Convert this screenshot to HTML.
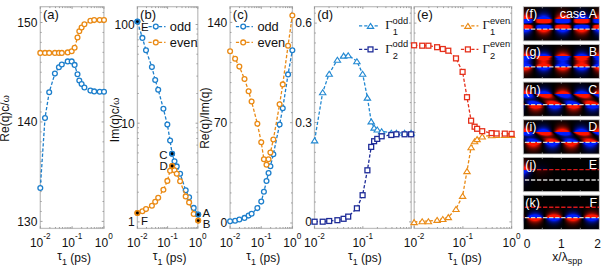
<!DOCTYPE html>
<html><head><meta charset="utf-8"><style>html,body{margin:0;padding:0;background:#fff;width:602px;height:267px;overflow:hidden}svg{display:block}</style></head><body>
<svg width="602" height="267" viewBox="0 0 602 267" font-family="Liberation Sans, sans-serif">
<rect width="602" height="267" fill="#fff"/>
<rect x="40.3" y="6.7" width="63.6" height="221.7" fill="none" stroke="#c0c0c0" stroke-width="1.3"/>
<path d="M40.3 228.4v-2.2M40.3 6.7v2.2M49.87 228.4v-1.4M49.87 6.7v1.4M55.47 228.4v-1.4M55.47 6.7v1.4M59.45 228.4v-1.4M59.45 6.7v1.4M62.53 228.4v-1.4M62.53 6.7v1.4M65.05 228.4v-1.4M65.05 6.7v1.4M67.17 228.4v-1.4M67.17 6.7v1.4M69.02 228.4v-1.4M69.02 6.7v1.4M70.64 228.4v-1.4M70.64 6.7v1.4M72.1 228.4v-2.2M72.1 6.7v2.2M81.67 228.4v-1.4M81.67 6.7v1.4M87.27 228.4v-1.4M87.27 6.7v1.4M91.25 228.4v-1.4M91.25 6.7v1.4M94.33 228.4v-1.4M94.33 6.7v1.4M96.85 228.4v-1.4M96.85 6.7v1.4M98.97 228.4v-1.4M98.97 6.7v1.4M100.82 228.4v-1.4M100.82 6.7v1.4M102.44 228.4v-1.4M102.44 6.7v1.4M103.9 228.4v-2.2M103.9 6.7v2.2M40.3 221.4h2.2M103.9 221.4h-2.2M40.3 211.46h1.4M103.9 211.46h-1.4M40.3 201.51h1.4M103.9 201.51h-1.4M40.3 191.56h1.4M103.9 191.56h-1.4M40.3 181.62h1.4M103.9 181.62h-1.4M40.3 171.68h1.4M103.9 171.68h-1.4M40.3 161.73h1.4M103.9 161.73h-1.4M40.3 151.79h1.4M103.9 151.79h-1.4M40.3 141.84h1.4M103.9 141.84h-1.4M40.3 131.89h1.4M103.9 131.89h-1.4M40.3 121.95h2.2M103.9 121.95h-2.2M40.3 112h1.4M103.9 112h-1.4M40.3 102.06h1.4M103.9 102.06h-1.4M40.3 92.11h1.4M103.9 92.11h-1.4M40.3 82.17h1.4M103.9 82.17h-1.4M40.3 72.22h1.4M103.9 72.22h-1.4M40.3 62.28h1.4M103.9 62.28h-1.4M40.3 52.34h1.4M103.9 52.34h-1.4M40.3 42.39h1.4M103.9 42.39h-1.4M40.3 32.45h1.4M103.9 32.45h-1.4M40.3 22.5h2.2M103.9 22.5h-2.2M40.3 12.55h1.4M103.9 12.55h-1.4" stroke="#8a8a8a" stroke-width="0.8" fill="none"/>
<text x="29.88" y="247" font-size="12" fill="#111">10<tspan font-size="8.2" dy="-7.6">-2</tspan></text>
<text x="61.68" y="247" font-size="12" fill="#111">10<tspan font-size="8.2" dy="-7.6">-1</tspan></text>
<text x="94.85" y="247" font-size="12" fill="#111">10<tspan font-size="8.2" dy="-7.6">0</tspan></text>
<text x="74.1" y="261.5" font-size="12" text-anchor="middle" fill="#111"><tspan font-size="12" dy="-1.8">&#964;</tspan><tspan font-size="9" dy="5.3">1</tspan><tspan dy="-3.5"> (ps)</tspan></text>
<text x="37.4" y="225.7" font-size="12" text-anchor="end" fill="#111" >130</text>
<text x="37.4" y="126.25" font-size="12" text-anchor="end" fill="#111" >140</text>
<text x="37.4" y="26.8" font-size="12" text-anchor="end" fill="#111" >150</text>
<rect x="137.4" y="6.7" width="60.4" height="221.7" fill="none" stroke="#c0c0c0" stroke-width="1.3"/>
<path d="M137.4 228.4v-2.2M137.4 6.7v2.2M146.49 228.4v-1.4M146.49 6.7v1.4M151.81 228.4v-1.4M151.81 6.7v1.4M155.58 228.4v-1.4M155.58 6.7v1.4M158.51 228.4v-1.4M158.51 6.7v1.4M160.9 228.4v-1.4M160.9 6.7v1.4M162.92 228.4v-1.4M162.92 6.7v1.4M164.67 228.4v-1.4M164.67 6.7v1.4M166.22 228.4v-1.4M166.22 6.7v1.4M167.6 228.4v-2.2M167.6 6.7v2.2M176.69 228.4v-1.4M176.69 6.7v1.4M182.01 228.4v-1.4M182.01 6.7v1.4M185.78 228.4v-1.4M185.78 6.7v1.4M188.71 228.4v-1.4M188.71 6.7v1.4M191.1 228.4v-1.4M191.1 6.7v1.4M193.12 228.4v-1.4M193.12 6.7v1.4M194.87 228.4v-1.4M194.87 6.7v1.4M196.42 228.4v-1.4M196.42 6.7v1.4M197.8 228.4v-2.2M197.8 6.7v2.2M137.4 221.9h2.2M197.8 221.9h-2.2M137.4 192.19h1.4M197.8 192.19h-1.4M137.4 174.81h1.4M197.8 174.81h-1.4M137.4 162.48h1.4M197.8 162.48h-1.4M137.4 152.91h1.4M197.8 152.91h-1.4M137.4 145.1h1.4M197.8 145.1h-1.4M137.4 138.49h1.4M197.8 138.49h-1.4M137.4 132.77h1.4M197.8 132.77h-1.4M137.4 127.72h1.4M197.8 127.72h-1.4M137.4 123.2h2.2M197.8 123.2h-2.2M137.4 93.49h1.4M197.8 93.49h-1.4M137.4 76.11h1.4M197.8 76.11h-1.4M137.4 63.78h1.4M197.8 63.78h-1.4M137.4 54.21h1.4M197.8 54.21h-1.4M137.4 46.4h1.4M197.8 46.4h-1.4M137.4 39.79h1.4M197.8 39.79h-1.4M137.4 34.07h1.4M197.8 34.07h-1.4M137.4 29.02h1.4M197.8 29.02h-1.4M137.4 24.5h2.2M197.8 24.5h-2.2" stroke="#8a8a8a" stroke-width="0.8" fill="none"/>
<text x="126.98" y="247" font-size="12" fill="#111">10<tspan font-size="8.2" dy="-7.6">-2</tspan></text>
<text x="157.18" y="247" font-size="12" fill="#111">10<tspan font-size="8.2" dy="-7.6">-1</tspan></text>
<text x="188.75" y="247" font-size="12" fill="#111">10<tspan font-size="8.2" dy="-7.6">0</tspan></text>
<text x="169.6" y="261.5" font-size="12" text-anchor="middle" fill="#111"><tspan font-size="12" dy="-1.8">&#964;</tspan><tspan font-size="9" dy="5.3">1</tspan><tspan dy="-3.5"> (ps)</tspan></text>
<text x="134.6" y="226.2" font-size="12" text-anchor="end" fill="#111" >1</text>
<text x="134.6" y="127.5" font-size="12" text-anchor="end" fill="#111" >10</text>
<text x="134.6" y="28.8" font-size="12" text-anchor="end" fill="#111" >100</text>
<rect x="230.1" y="6.7" width="62.3" height="221.7" fill="none" stroke="#c0c0c0" stroke-width="1.3"/>
<path d="M230.1 228.4v-2.2M230.1 6.7v2.2M239.48 228.4v-1.4M239.48 6.7v1.4M244.96 228.4v-1.4M244.96 6.7v1.4M248.85 228.4v-1.4M248.85 6.7v1.4M251.87 228.4v-1.4M251.87 6.7v1.4M254.34 228.4v-1.4M254.34 6.7v1.4M256.42 228.4v-1.4M256.42 6.7v1.4M258.23 228.4v-1.4M258.23 6.7v1.4M259.82 228.4v-1.4M259.82 6.7v1.4M261.25 228.4v-2.2M261.25 6.7v2.2M270.63 228.4v-1.4M270.63 6.7v1.4M276.11 228.4v-1.4M276.11 6.7v1.4M280 228.4v-1.4M280 6.7v1.4M283.02 228.4v-1.4M283.02 6.7v1.4M285.49 228.4v-1.4M285.49 6.7v1.4M287.57 228.4v-1.4M287.57 6.7v1.4M289.38 228.4v-1.4M289.38 6.7v1.4M290.97 228.4v-1.4M290.97 6.7v1.4M292.4 228.4v-2.2M292.4 6.7v2.2M230.1 223h2.2M292.4 223h-2.2M230.1 212.97h1.4M292.4 212.97h-1.4M230.1 202.94h1.4M292.4 202.94h-1.4M230.1 192.91h1.4M292.4 192.91h-1.4M230.1 182.88h1.4M292.4 182.88h-1.4M230.1 172.85h1.4M292.4 172.85h-1.4M230.1 162.82h1.4M292.4 162.82h-1.4M230.1 152.79h1.4M292.4 152.79h-1.4M230.1 142.76h1.4M292.4 142.76h-1.4M230.1 132.73h1.4M292.4 132.73h-1.4M230.1 122.7h2.2M292.4 122.7h-2.2M230.1 112.67h1.4M292.4 112.67h-1.4M230.1 102.64h1.4M292.4 102.64h-1.4M230.1 92.61h1.4M292.4 92.61h-1.4M230.1 82.58h1.4M292.4 82.58h-1.4M230.1 72.55h1.4M292.4 72.55h-1.4M230.1 62.52h1.4M292.4 62.52h-1.4M230.1 52.49h1.4M292.4 52.49h-1.4M230.1 42.46h1.4M292.4 42.46h-1.4M230.1 32.43h1.4M292.4 32.43h-1.4M230.1 22.4h2.2M292.4 22.4h-2.2M230.1 12.37h1.4M292.4 12.37h-1.4" stroke="#8a8a8a" stroke-width="0.8" fill="none"/>
<text x="219.68" y="247" font-size="12" fill="#111">10<tspan font-size="8.2" dy="-7.6">-2</tspan></text>
<text x="250.83" y="247" font-size="12" fill="#111">10<tspan font-size="8.2" dy="-7.6">-1</tspan></text>
<text x="283.35" y="247" font-size="12" fill="#111">10<tspan font-size="8.2" dy="-7.6">0</tspan></text>
<text x="263.25" y="261.5" font-size="12" text-anchor="middle" fill="#111"><tspan font-size="12" dy="-1.8">&#964;</tspan><tspan font-size="9" dy="5.3">1</tspan><tspan dy="-3.5"> (ps)</tspan></text>
<text x="227.3" y="227.3" font-size="12" text-anchor="end" fill="#111" >0</text>
<text x="227.3" y="127" font-size="12" text-anchor="end" fill="#111" >70</text>
<text x="227.3" y="26.7" font-size="12" text-anchor="end" fill="#111" >140</text>
<rect x="314.5" y="6.7" width="96.7" height="221.7" fill="none" stroke="#c0c0c0" stroke-width="1.3"/>
<path d="M314.5 228.4v-2.2M314.5 6.7v2.2M329.05 228.4v-1.4M329.05 6.7v1.4M337.57 228.4v-1.4M337.57 6.7v1.4M343.61 228.4v-1.4M343.61 6.7v1.4M348.3 228.4v-1.4M348.3 6.7v1.4M352.12 228.4v-1.4M352.12 6.7v1.4M355.36 228.4v-1.4M355.36 6.7v1.4M358.16 228.4v-1.4M358.16 6.7v1.4M360.64 228.4v-1.4M360.64 6.7v1.4M362.85 228.4v-2.2M362.85 6.7v2.2M377.4 228.4v-1.4M377.4 6.7v1.4M385.92 228.4v-1.4M385.92 6.7v1.4M391.96 228.4v-1.4M391.96 6.7v1.4M396.65 228.4v-1.4M396.65 6.7v1.4M400.47 228.4v-1.4M400.47 6.7v1.4M403.71 228.4v-1.4M403.71 6.7v1.4M406.51 228.4v-1.4M406.51 6.7v1.4M408.99 228.4v-1.4M408.99 6.7v1.4M411.2 228.4v-2.2M411.2 6.7v2.2M314.5 221.9h2.2M411.2 221.9h-2.2M314.5 211.96h1.4M411.2 211.96h-1.4M314.5 202.02h1.4M411.2 202.02h-1.4M314.5 192.08h1.4M411.2 192.08h-1.4M314.5 182.14h1.4M411.2 182.14h-1.4M314.5 172.2h1.4M411.2 172.2h-1.4M314.5 162.26h1.4M411.2 162.26h-1.4M314.5 152.32h1.4M411.2 152.32h-1.4M314.5 142.38h1.4M411.2 142.38h-1.4M314.5 132.44h1.4M411.2 132.44h-1.4M314.5 122.5h2.2M411.2 122.5h-2.2M314.5 112.56h1.4M411.2 112.56h-1.4M314.5 102.62h1.4M411.2 102.62h-1.4M314.5 92.68h1.4M411.2 92.68h-1.4M314.5 82.74h1.4M411.2 82.74h-1.4M314.5 72.8h1.4M411.2 72.8h-1.4M314.5 62.86h1.4M411.2 62.86h-1.4M314.5 52.92h1.4M411.2 52.92h-1.4M314.5 42.98h1.4M411.2 42.98h-1.4M314.5 33.04h1.4M411.2 33.04h-1.4M314.5 23.1h2.2M411.2 23.1h-2.2M314.5 13.16h1.4M411.2 13.16h-1.4" stroke="#8a8a8a" stroke-width="0.8" fill="none"/>
<text x="304.08" y="247" font-size="12" fill="#111">10<tspan font-size="8.2" dy="-7.6">-2</tspan></text>
<text x="352.43" y="247" font-size="12" fill="#111">10<tspan font-size="8.2" dy="-7.6">-1</tspan></text>
<text x="364.85" y="261.5" font-size="12" text-anchor="middle" fill="#111"><tspan font-size="12" dy="-1.8">&#964;</tspan><tspan font-size="9" dy="5.3">1</tspan><tspan dy="-3.5"> (ps)</tspan></text>
<text x="312" y="226.2" font-size="12" text-anchor="end" fill="#111" >0</text>
<text x="312" y="126.8" font-size="12" text-anchor="end" fill="#111" >0.3</text>
<text x="312" y="27.4" font-size="12" text-anchor="end" fill="#111" >0.6</text>
<rect x="414.2" y="6.7" width="97.4" height="221.7" fill="none" stroke="#c0c0c0" stroke-width="1.3"/>
<path d="M414.2 228.4v-2.2M414.2 6.7v2.2M428.86 228.4v-1.4M428.86 6.7v1.4M437.44 228.4v-1.4M437.44 6.7v1.4M443.52 228.4v-1.4M443.52 6.7v1.4M448.24 228.4v-1.4M448.24 6.7v1.4M452.1 228.4v-1.4M452.1 6.7v1.4M455.36 228.4v-1.4M455.36 6.7v1.4M458.18 228.4v-1.4M458.18 6.7v1.4M460.67 228.4v-1.4M460.67 6.7v1.4M462.9 228.4v-2.2M462.9 6.7v2.2M477.56 228.4v-1.4M477.56 6.7v1.4M486.14 228.4v-1.4M486.14 6.7v1.4M492.22 228.4v-1.4M492.22 6.7v1.4M496.94 228.4v-1.4M496.94 6.7v1.4M500.8 228.4v-1.4M500.8 6.7v1.4M504.06 228.4v-1.4M504.06 6.7v1.4M506.88 228.4v-1.4M506.88 6.7v1.4M509.37 228.4v-1.4M509.37 6.7v1.4M511.6 228.4v-2.2M511.6 6.7v2.2M414.2 221.9h2.2M511.6 221.9h-2.2M414.2 211.96h1.4M511.6 211.96h-1.4M414.2 202.02h1.4M511.6 202.02h-1.4M414.2 192.08h1.4M511.6 192.08h-1.4M414.2 182.14h1.4M511.6 182.14h-1.4M414.2 172.2h1.4M511.6 172.2h-1.4M414.2 162.26h1.4M511.6 162.26h-1.4M414.2 152.32h1.4M511.6 152.32h-1.4M414.2 142.38h1.4M511.6 142.38h-1.4M414.2 132.44h1.4M511.6 132.44h-1.4M414.2 122.5h2.2M511.6 122.5h-2.2M414.2 112.56h1.4M511.6 112.56h-1.4M414.2 102.62h1.4M511.6 102.62h-1.4M414.2 92.68h1.4M511.6 92.68h-1.4M414.2 82.74h1.4M511.6 82.74h-1.4M414.2 72.8h1.4M511.6 72.8h-1.4M414.2 62.86h1.4M511.6 62.86h-1.4M414.2 52.92h1.4M511.6 52.92h-1.4M414.2 42.98h1.4M511.6 42.98h-1.4M414.2 33.04h1.4M511.6 33.04h-1.4M414.2 23.1h2.2M511.6 23.1h-2.2M414.2 13.16h1.4M511.6 13.16h-1.4" stroke="#8a8a8a" stroke-width="0.8" fill="none"/>
<text x="403.78" y="247" font-size="12" fill="#111">10<tspan font-size="8.2" dy="-7.6">-2</tspan></text>
<text x="452.48" y="247" font-size="12" fill="#111">10<tspan font-size="8.2" dy="-7.6">-1</tspan></text>
<text x="502.55" y="247" font-size="12" fill="#111">10<tspan font-size="8.2" dy="-7.6">0</tspan></text>
<text x="464.9" y="261.5" font-size="12" text-anchor="middle" fill="#111"><tspan font-size="12" dy="-1.8">&#964;</tspan><tspan font-size="9" dy="5.3">1</tspan><tspan dy="-3.5"> (ps)</tspan></text>
<polyline points="40.3,188 45,118.1 49.2,92.2 54.9,73.6 58.9,67.2 61.8,64.5 67.7,61.4 71.7,61.4 74.6,64.9 77.5,74.2 79.3,80.5 81.6,84 84.4,87.5 90.4,90.6 94.2,91.4 99.7,91.7 104,91.7" fill="none" stroke="#1d7fcc" stroke-width="1.3" stroke-dasharray="3.3 1.9"/>
<circle cx="40.3" cy="188" r="2.4" fill="#fff" stroke="#1d7fcc" stroke-width="1.3"/>
<circle cx="45" cy="118.1" r="2.4" fill="#fff" stroke="#1d7fcc" stroke-width="1.3"/>
<circle cx="49.2" cy="92.2" r="2.4" fill="#fff" stroke="#1d7fcc" stroke-width="1.3"/>
<circle cx="54.9" cy="73.6" r="2.4" fill="#fff" stroke="#1d7fcc" stroke-width="1.3"/>
<circle cx="58.9" cy="67.2" r="2.4" fill="#fff" stroke="#1d7fcc" stroke-width="1.3"/>
<circle cx="61.8" cy="64.5" r="2.4" fill="#fff" stroke="#1d7fcc" stroke-width="1.3"/>
<circle cx="67.7" cy="61.4" r="2.4" fill="#fff" stroke="#1d7fcc" stroke-width="1.3"/>
<circle cx="71.7" cy="61.4" r="2.4" fill="#fff" stroke="#1d7fcc" stroke-width="1.3"/>
<circle cx="74.6" cy="64.9" r="2.4" fill="#fff" stroke="#1d7fcc" stroke-width="1.3"/>
<circle cx="77.5" cy="74.2" r="2.4" fill="#fff" stroke="#1d7fcc" stroke-width="1.3"/>
<circle cx="79.3" cy="80.5" r="2.4" fill="#fff" stroke="#1d7fcc" stroke-width="1.3"/>
<circle cx="81.6" cy="84" r="2.4" fill="#fff" stroke="#1d7fcc" stroke-width="1.3"/>
<circle cx="84.4" cy="87.5" r="2.4" fill="#fff" stroke="#1d7fcc" stroke-width="1.3"/>
<circle cx="90.4" cy="90.6" r="2.4" fill="#fff" stroke="#1d7fcc" stroke-width="1.3"/>
<circle cx="94.2" cy="91.4" r="2.4" fill="#fff" stroke="#1d7fcc" stroke-width="1.3"/>
<circle cx="99.7" cy="91.7" r="2.4" fill="#fff" stroke="#1d7fcc" stroke-width="1.3"/>
<circle cx="104" cy="91.7" r="2.4" fill="#fff" stroke="#1d7fcc" stroke-width="1.3"/>
<polyline points="40.3,52.9 45,52.9 49.2,52.9 54.9,52.9 58.9,52.9 61.8,52.9 67.7,52.4 71.7,51.3 74.6,47.7 77.5,37.5 79.3,31.2 81.6,27.6 84.4,24.2 90.4,20.7 94.2,20.1 99.7,20.1 104,20.1" fill="none" stroke="#ea8a14" stroke-width="1.3" stroke-dasharray="3.3 1.9"/>
<circle cx="40.3" cy="52.9" r="2.4" fill="#fff" stroke="#ea8a14" stroke-width="1.3"/>
<circle cx="45" cy="52.9" r="2.4" fill="#fff" stroke="#ea8a14" stroke-width="1.3"/>
<circle cx="49.2" cy="52.9" r="2.4" fill="#fff" stroke="#ea8a14" stroke-width="1.3"/>
<circle cx="54.9" cy="52.9" r="2.4" fill="#fff" stroke="#ea8a14" stroke-width="1.3"/>
<circle cx="58.9" cy="52.9" r="2.4" fill="#fff" stroke="#ea8a14" stroke-width="1.3"/>
<circle cx="61.8" cy="52.9" r="2.4" fill="#fff" stroke="#ea8a14" stroke-width="1.3"/>
<circle cx="67.7" cy="52.4" r="2.4" fill="#fff" stroke="#ea8a14" stroke-width="1.3"/>
<circle cx="71.7" cy="51.3" r="2.4" fill="#fff" stroke="#ea8a14" stroke-width="1.3"/>
<circle cx="74.6" cy="47.7" r="2.4" fill="#fff" stroke="#ea8a14" stroke-width="1.3"/>
<circle cx="77.5" cy="37.5" r="2.4" fill="#fff" stroke="#ea8a14" stroke-width="1.3"/>
<circle cx="79.3" cy="31.2" r="2.4" fill="#fff" stroke="#ea8a14" stroke-width="1.3"/>
<circle cx="81.6" cy="27.6" r="2.4" fill="#fff" stroke="#ea8a14" stroke-width="1.3"/>
<circle cx="84.4" cy="24.2" r="2.4" fill="#fff" stroke="#ea8a14" stroke-width="1.3"/>
<circle cx="90.4" cy="20.7" r="2.4" fill="#fff" stroke="#ea8a14" stroke-width="1.3"/>
<circle cx="94.2" cy="20.1" r="2.4" fill="#fff" stroke="#ea8a14" stroke-width="1.3"/>
<circle cx="99.7" cy="20.1" r="2.4" fill="#fff" stroke="#ea8a14" stroke-width="1.3"/>
<circle cx="104" cy="20.1" r="2.4" fill="#fff" stroke="#ea8a14" stroke-width="1.3"/>
<polyline points="137.4,21.6 142.4,37.9 146,50.3 151.9,67.1 155.2,80 158.2,89.7 163.4,108.8 167.35,124.6 170.1,140.6 172.1,153.8 174.5,161.3 176.75,166.4 180.1,173.7 185.7,190.2 189.1,197.2 193.7,207.9 198.2,214.6" fill="none" stroke="#1d7fcc" stroke-width="1.3" stroke-dasharray="3.3 1.9"/>
<circle cx="137.4" cy="21.6" r="2.4" fill="#fff" stroke="#1d7fcc" stroke-width="1.3"/>
<circle cx="142.4" cy="37.9" r="2.4" fill="#fff" stroke="#1d7fcc" stroke-width="1.3"/>
<circle cx="146" cy="50.3" r="2.4" fill="#fff" stroke="#1d7fcc" stroke-width="1.3"/>
<circle cx="151.9" cy="67.1" r="2.4" fill="#fff" stroke="#1d7fcc" stroke-width="1.3"/>
<circle cx="155.2" cy="80" r="2.4" fill="#fff" stroke="#1d7fcc" stroke-width="1.3"/>
<circle cx="158.2" cy="89.7" r="2.4" fill="#fff" stroke="#1d7fcc" stroke-width="1.3"/>
<circle cx="163.4" cy="108.8" r="2.4" fill="#fff" stroke="#1d7fcc" stroke-width="1.3"/>
<circle cx="167.35" cy="124.6" r="2.4" fill="#fff" stroke="#1d7fcc" stroke-width="1.3"/>
<circle cx="170.1" cy="140.6" r="2.4" fill="#fff" stroke="#1d7fcc" stroke-width="1.3"/>
<circle cx="172.1" cy="153.8" r="2.4" fill="#fff" stroke="#1d7fcc" stroke-width="1.3"/>
<circle cx="174.5" cy="161.3" r="2.4" fill="#fff" stroke="#1d7fcc" stroke-width="1.3"/>
<circle cx="176.75" cy="166.4" r="2.4" fill="#fff" stroke="#1d7fcc" stroke-width="1.3"/>
<circle cx="180.1" cy="173.7" r="2.4" fill="#fff" stroke="#1d7fcc" stroke-width="1.3"/>
<circle cx="185.7" cy="190.2" r="2.4" fill="#fff" stroke="#1d7fcc" stroke-width="1.3"/>
<circle cx="189.1" cy="197.2" r="2.4" fill="#fff" stroke="#1d7fcc" stroke-width="1.3"/>
<circle cx="193.7" cy="207.9" r="2.4" fill="#fff" stroke="#1d7fcc" stroke-width="1.3"/>
<circle cx="198.2" cy="214.6" r="2.4" fill="#fff" stroke="#1d7fcc" stroke-width="1.3"/>
<polyline points="137.4,213 142.4,211.3 146,209.1 151.9,205.7 155.2,201.7 158.2,197.8 163.4,189.7 167.35,180.9 170.1,170.7 172.1,166 174.5,170.3 176.75,173.8 180.1,181.2 185.7,196.4 189.1,202.4 193.7,214 198.2,220.6" fill="none" stroke="#ea8a14" stroke-width="1.3" stroke-dasharray="3.3 1.9"/>
<circle cx="137.4" cy="213" r="2.4" fill="#fff" stroke="#ea8a14" stroke-width="1.3"/>
<circle cx="142.4" cy="211.3" r="2.4" fill="#fff" stroke="#ea8a14" stroke-width="1.3"/>
<circle cx="146" cy="209.1" r="2.4" fill="#fff" stroke="#ea8a14" stroke-width="1.3"/>
<circle cx="151.9" cy="205.7" r="2.4" fill="#fff" stroke="#ea8a14" stroke-width="1.3"/>
<circle cx="155.2" cy="201.7" r="2.4" fill="#fff" stroke="#ea8a14" stroke-width="1.3"/>
<circle cx="158.2" cy="197.8" r="2.4" fill="#fff" stroke="#ea8a14" stroke-width="1.3"/>
<circle cx="163.4" cy="189.7" r="2.4" fill="#fff" stroke="#ea8a14" stroke-width="1.3"/>
<circle cx="167.35" cy="180.9" r="2.4" fill="#fff" stroke="#ea8a14" stroke-width="1.3"/>
<circle cx="170.1" cy="170.7" r="2.4" fill="#fff" stroke="#ea8a14" stroke-width="1.3"/>
<circle cx="172.1" cy="166" r="2.4" fill="#fff" stroke="#ea8a14" stroke-width="1.3"/>
<circle cx="174.5" cy="170.3" r="2.4" fill="#fff" stroke="#ea8a14" stroke-width="1.3"/>
<circle cx="176.75" cy="173.8" r="2.4" fill="#fff" stroke="#ea8a14" stroke-width="1.3"/>
<circle cx="180.1" cy="181.2" r="2.4" fill="#fff" stroke="#ea8a14" stroke-width="1.3"/>
<circle cx="185.7" cy="196.4" r="2.4" fill="#fff" stroke="#ea8a14" stroke-width="1.3"/>
<circle cx="189.1" cy="202.4" r="2.4" fill="#fff" stroke="#ea8a14" stroke-width="1.3"/>
<circle cx="193.7" cy="214" r="2.4" fill="#fff" stroke="#ea8a14" stroke-width="1.3"/>
<circle cx="198.2" cy="220.6" r="2.4" fill="#fff" stroke="#ea8a14" stroke-width="1.3"/>
<polyline points="230.1,221.2 235.1,220.8 239.35,219.5 244.5,217.9 248.6,215.6 251.6,213.7 257.35,208.1 261.25,201.6 263.9,191.7 266.5,181 268.55,173 270.4,166.3 273.35,154.3 279.6,124.5 282.75,108.2 288.05,74.4 292.35,50.2" fill="none" stroke="#1d7fcc" stroke-width="1.3" stroke-dasharray="3.3 1.9"/>
<circle cx="230.1" cy="221.2" r="2.4" fill="#fff" stroke="#1d7fcc" stroke-width="1.3"/>
<circle cx="235.1" cy="220.8" r="2.4" fill="#fff" stroke="#1d7fcc" stroke-width="1.3"/>
<circle cx="239.35" cy="219.5" r="2.4" fill="#fff" stroke="#1d7fcc" stroke-width="1.3"/>
<circle cx="244.5" cy="217.9" r="2.4" fill="#fff" stroke="#1d7fcc" stroke-width="1.3"/>
<circle cx="248.6" cy="215.6" r="2.4" fill="#fff" stroke="#1d7fcc" stroke-width="1.3"/>
<circle cx="251.6" cy="213.7" r="2.4" fill="#fff" stroke="#1d7fcc" stroke-width="1.3"/>
<circle cx="257.35" cy="208.1" r="2.4" fill="#fff" stroke="#1d7fcc" stroke-width="1.3"/>
<circle cx="261.25" cy="201.6" r="2.4" fill="#fff" stroke="#1d7fcc" stroke-width="1.3"/>
<circle cx="263.9" cy="191.7" r="2.4" fill="#fff" stroke="#1d7fcc" stroke-width="1.3"/>
<circle cx="266.5" cy="181" r="2.4" fill="#fff" stroke="#1d7fcc" stroke-width="1.3"/>
<circle cx="268.55" cy="173" r="2.4" fill="#fff" stroke="#1d7fcc" stroke-width="1.3"/>
<circle cx="270.4" cy="166.3" r="2.4" fill="#fff" stroke="#1d7fcc" stroke-width="1.3"/>
<circle cx="273.35" cy="154.3" r="2.4" fill="#fff" stroke="#1d7fcc" stroke-width="1.3"/>
<circle cx="279.6" cy="124.5" r="2.4" fill="#fff" stroke="#1d7fcc" stroke-width="1.3"/>
<circle cx="282.75" cy="108.2" r="2.4" fill="#fff" stroke="#1d7fcc" stroke-width="1.3"/>
<circle cx="288.05" cy="74.4" r="2.4" fill="#fff" stroke="#1d7fcc" stroke-width="1.3"/>
<circle cx="292.35" cy="50.2" r="2.4" fill="#fff" stroke="#1d7fcc" stroke-width="1.3"/>
<polyline points="230.1,51.2 235.1,58.7 239.35,66.6 244.5,79 248.6,91.2 251.6,101.5 257.35,123.7 261.25,142.3 263.9,159.3 266.5,164.8 268.55,159.3 270.4,152.6 273.35,139.5 279.6,104.3 282.75,84.4 288.05,45.7 292.35,15.5" fill="none" stroke="#ea8a14" stroke-width="1.3" stroke-dasharray="3.3 1.9"/>
<circle cx="230.1" cy="51.2" r="2.4" fill="#fff" stroke="#ea8a14" stroke-width="1.3"/>
<circle cx="235.1" cy="58.7" r="2.4" fill="#fff" stroke="#ea8a14" stroke-width="1.3"/>
<circle cx="239.35" cy="66.6" r="2.4" fill="#fff" stroke="#ea8a14" stroke-width="1.3"/>
<circle cx="244.5" cy="79" r="2.4" fill="#fff" stroke="#ea8a14" stroke-width="1.3"/>
<circle cx="248.6" cy="91.2" r="2.4" fill="#fff" stroke="#ea8a14" stroke-width="1.3"/>
<circle cx="251.6" cy="101.5" r="2.4" fill="#fff" stroke="#ea8a14" stroke-width="1.3"/>
<circle cx="257.35" cy="123.7" r="2.4" fill="#fff" stroke="#ea8a14" stroke-width="1.3"/>
<circle cx="261.25" cy="142.3" r="2.4" fill="#fff" stroke="#ea8a14" stroke-width="1.3"/>
<circle cx="263.9" cy="159.3" r="2.4" fill="#fff" stroke="#ea8a14" stroke-width="1.3"/>
<circle cx="266.5" cy="164.8" r="2.4" fill="#fff" stroke="#ea8a14" stroke-width="1.3"/>
<circle cx="268.55" cy="159.3" r="2.4" fill="#fff" stroke="#ea8a14" stroke-width="1.3"/>
<circle cx="270.4" cy="152.6" r="2.4" fill="#fff" stroke="#ea8a14" stroke-width="1.3"/>
<circle cx="273.35" cy="139.5" r="2.4" fill="#fff" stroke="#ea8a14" stroke-width="1.3"/>
<circle cx="279.6" cy="104.3" r="2.4" fill="#fff" stroke="#ea8a14" stroke-width="1.3"/>
<circle cx="282.75" cy="84.4" r="2.4" fill="#fff" stroke="#ea8a14" stroke-width="1.3"/>
<circle cx="288.05" cy="45.7" r="2.4" fill="#fff" stroke="#ea8a14" stroke-width="1.3"/>
<circle cx="292.35" cy="15.5" r="2.4" fill="#fff" stroke="#ea8a14" stroke-width="1.3"/>
<polyline points="314.6,140.4 322.7,92.2 329.2,73.7 337.4,59.7 343.6,55.6 348.2,55.2 356.9,61.2 362.6,73.7 367.4,97.6 371.2,121.4 374.1,127.6 377.25,129.5 381.65,131.3 391.3,132.8 396.4,132.8 404.6,132.8 411.1,132.8" fill="none" stroke="#2188d2" stroke-width="1.3" stroke-dasharray="3.3 1.9"/>
<path d="M314.6 137.9L317.8 142.9H311.4Z" fill="#fff" stroke="#2188d2" stroke-width="1.1" stroke-linejoin="miter"/>
<path d="M322.7 89.7L325.9 94.7H319.5Z" fill="#fff" stroke="#2188d2" stroke-width="1.1" stroke-linejoin="miter"/>
<path d="M329.2 71.2L332.4 76.2H326Z" fill="#fff" stroke="#2188d2" stroke-width="1.1" stroke-linejoin="miter"/>
<path d="M337.4 57.2L340.6 62.2H334.2Z" fill="#fff" stroke="#2188d2" stroke-width="1.1" stroke-linejoin="miter"/>
<path d="M343.6 53.1L346.8 58.1H340.4Z" fill="#fff" stroke="#2188d2" stroke-width="1.1" stroke-linejoin="miter"/>
<path d="M348.2 52.7L351.4 57.7H345Z" fill="#fff" stroke="#2188d2" stroke-width="1.1" stroke-linejoin="miter"/>
<path d="M356.9 58.7L360.1 63.7H353.7Z" fill="#fff" stroke="#2188d2" stroke-width="1.1" stroke-linejoin="miter"/>
<path d="M362.6 71.2L365.8 76.2H359.4Z" fill="#fff" stroke="#2188d2" stroke-width="1.1" stroke-linejoin="miter"/>
<path d="M367.4 95.1L370.6 100.1H364.2Z" fill="#fff" stroke="#2188d2" stroke-width="1.1" stroke-linejoin="miter"/>
<path d="M371.2 118.9L374.4 123.9H368Z" fill="#fff" stroke="#2188d2" stroke-width="1.1" stroke-linejoin="miter"/>
<path d="M374.1 125.1L377.3 130.1H370.9Z" fill="#fff" stroke="#2188d2" stroke-width="1.1" stroke-linejoin="miter"/>
<path d="M377.25 127L380.45 132H374.05Z" fill="#fff" stroke="#2188d2" stroke-width="1.1" stroke-linejoin="miter"/>
<path d="M381.65 128.8L384.85 133.8H378.45Z" fill="#fff" stroke="#2188d2" stroke-width="1.1" stroke-linejoin="miter"/>
<path d="M391.3 130.3L394.5 135.3H388.1Z" fill="#fff" stroke="#2188d2" stroke-width="1.1" stroke-linejoin="miter"/>
<path d="M396.4 130.3L399.6 135.3H393.2Z" fill="#fff" stroke="#2188d2" stroke-width="1.1" stroke-linejoin="miter"/>
<path d="M404.6 130.3L407.8 135.3H401.4Z" fill="#fff" stroke="#2188d2" stroke-width="1.1" stroke-linejoin="miter"/>
<path d="M411.1 130.3L414.3 135.3H407.9Z" fill="#fff" stroke="#2188d2" stroke-width="1.1" stroke-linejoin="miter"/>
<polyline points="314.6,221.7 322.7,221.7 329.2,221 337.4,220.2 343.6,218.8 348.2,216.6 356.9,208.3 362.6,195.2 367.4,170.3 371.2,146.9 374.1,141.2 377.25,138.9 381.65,136.3 391.3,135 396.4,134.3 404.6,134.3 411.1,134.3" fill="none" stroke="#1e2c98" stroke-width="1.3" stroke-dasharray="3.3 1.9"/>
<rect x="312.15" y="219.25" width="4.9" height="4.9" fill="#fff" stroke="#1e2c98" stroke-width="1.3"/>
<rect x="320.25" y="219.25" width="4.9" height="4.9" fill="#fff" stroke="#1e2c98" stroke-width="1.3"/>
<rect x="326.75" y="218.55" width="4.9" height="4.9" fill="#fff" stroke="#1e2c98" stroke-width="1.3"/>
<rect x="334.95" y="217.75" width="4.9" height="4.9" fill="#fff" stroke="#1e2c98" stroke-width="1.3"/>
<rect x="341.15" y="216.35" width="4.9" height="4.9" fill="#fff" stroke="#1e2c98" stroke-width="1.3"/>
<rect x="345.75" y="214.15" width="4.9" height="4.9" fill="#fff" stroke="#1e2c98" stroke-width="1.3"/>
<rect x="354.45" y="205.85" width="4.9" height="4.9" fill="#fff" stroke="#1e2c98" stroke-width="1.3"/>
<rect x="360.15" y="192.75" width="4.9" height="4.9" fill="#fff" stroke="#1e2c98" stroke-width="1.3"/>
<rect x="364.95" y="167.85" width="4.9" height="4.9" fill="#fff" stroke="#1e2c98" stroke-width="1.3"/>
<rect x="368.75" y="144.45" width="4.9" height="4.9" fill="#fff" stroke="#1e2c98" stroke-width="1.3"/>
<rect x="371.65" y="138.75" width="4.9" height="4.9" fill="#fff" stroke="#1e2c98" stroke-width="1.3"/>
<rect x="374.8" y="136.45" width="4.9" height="4.9" fill="#fff" stroke="#1e2c98" stroke-width="1.3"/>
<rect x="379.2" y="133.85" width="4.9" height="4.9" fill="#fff" stroke="#1e2c98" stroke-width="1.3"/>
<rect x="388.85" y="132.55" width="4.9" height="4.9" fill="#fff" stroke="#1e2c98" stroke-width="1.3"/>
<rect x="393.95" y="131.85" width="4.9" height="4.9" fill="#fff" stroke="#1e2c98" stroke-width="1.3"/>
<rect x="402.15" y="131.85" width="4.9" height="4.9" fill="#fff" stroke="#1e2c98" stroke-width="1.3"/>
<rect x="408.65" y="131.85" width="4.9" height="4.9" fill="#fff" stroke="#1e2c98" stroke-width="1.3"/>
<polyline points="414.1,222.1 422.2,221.2 428.4,221.2 437.1,219.9 442.8,219 448.3,217.1 456,209 462.6,195.9 467,171.1 471.1,147.3 474.6,141.2 477.1,139.1 482.2,136.5 491.6,135.3 496.6,135 504.8,135 511.6,135" fill="none" stroke="#ea8a14" stroke-width="1.3" stroke-dasharray="3.3 1.9"/>
<path d="M414.1 219.6L417.3 224.6H410.9Z" fill="#fff" stroke="#ea8a14" stroke-width="1.1" stroke-linejoin="miter"/>
<path d="M422.2 218.7L425.4 223.7H419Z" fill="#fff" stroke="#ea8a14" stroke-width="1.1" stroke-linejoin="miter"/>
<path d="M428.4 218.7L431.6 223.7H425.2Z" fill="#fff" stroke="#ea8a14" stroke-width="1.1" stroke-linejoin="miter"/>
<path d="M437.1 217.4L440.3 222.4H433.9Z" fill="#fff" stroke="#ea8a14" stroke-width="1.1" stroke-linejoin="miter"/>
<path d="M442.8 216.5L446 221.5H439.6Z" fill="#fff" stroke="#ea8a14" stroke-width="1.1" stroke-linejoin="miter"/>
<path d="M448.3 214.6L451.5 219.6H445.1Z" fill="#fff" stroke="#ea8a14" stroke-width="1.1" stroke-linejoin="miter"/>
<path d="M456 206.5L459.2 211.5H452.8Z" fill="#fff" stroke="#ea8a14" stroke-width="1.1" stroke-linejoin="miter"/>
<path d="M462.6 193.4L465.8 198.4H459.4Z" fill="#fff" stroke="#ea8a14" stroke-width="1.1" stroke-linejoin="miter"/>
<path d="M467 168.6L470.2 173.6H463.8Z" fill="#fff" stroke="#ea8a14" stroke-width="1.1" stroke-linejoin="miter"/>
<path d="M471.1 144.8L474.3 149.8H467.9Z" fill="#fff" stroke="#ea8a14" stroke-width="1.1" stroke-linejoin="miter"/>
<path d="M474.6 138.7L477.8 143.7H471.4Z" fill="#fff" stroke="#ea8a14" stroke-width="1.1" stroke-linejoin="miter"/>
<path d="M477.1 136.6L480.3 141.6H473.9Z" fill="#fff" stroke="#ea8a14" stroke-width="1.1" stroke-linejoin="miter"/>
<path d="M482.2 134L485.4 139H479Z" fill="#fff" stroke="#ea8a14" stroke-width="1.1" stroke-linejoin="miter"/>
<path d="M491.6 132.8L494.8 137.8H488.4Z" fill="#fff" stroke="#ea8a14" stroke-width="1.1" stroke-linejoin="miter"/>
<path d="M496.6 132.5L499.8 137.5H493.4Z" fill="#fff" stroke="#ea8a14" stroke-width="1.1" stroke-linejoin="miter"/>
<path d="M504.8 132.5L508 137.5H501.6Z" fill="#fff" stroke="#ea8a14" stroke-width="1.1" stroke-linejoin="miter"/>
<path d="M511.6 132.5L514.8 137.5H508.4Z" fill="#fff" stroke="#ea8a14" stroke-width="1.1" stroke-linejoin="miter"/>
<polyline points="414.1,45.3 422.2,45.7 428.4,45.7 437.1,47.2 442.8,49 448.3,50.7 456,58.4 462.6,71.9 467,97.2 471.1,120.7 474.6,126.7 477.1,128.8 482.2,131.2 491.6,133.1 496.6,133.5 504.8,133.6 511.6,133.9" fill="none" stroke="#e5301b" stroke-width="1.3" stroke-dasharray="3.3 1.9"/>
<rect x="411.65" y="42.85" width="4.9" height="4.9" fill="#fff" stroke="#e5301b" stroke-width="1.3"/>
<rect x="419.75" y="43.25" width="4.9" height="4.9" fill="#fff" stroke="#e5301b" stroke-width="1.3"/>
<rect x="425.95" y="43.25" width="4.9" height="4.9" fill="#fff" stroke="#e5301b" stroke-width="1.3"/>
<rect x="434.65" y="44.75" width="4.9" height="4.9" fill="#fff" stroke="#e5301b" stroke-width="1.3"/>
<rect x="440.35" y="46.55" width="4.9" height="4.9" fill="#fff" stroke="#e5301b" stroke-width="1.3"/>
<rect x="445.85" y="48.25" width="4.9" height="4.9" fill="#fff" stroke="#e5301b" stroke-width="1.3"/>
<rect x="453.55" y="55.95" width="4.9" height="4.9" fill="#fff" stroke="#e5301b" stroke-width="1.3"/>
<rect x="460.15" y="69.45" width="4.9" height="4.9" fill="#fff" stroke="#e5301b" stroke-width="1.3"/>
<rect x="464.55" y="94.75" width="4.9" height="4.9" fill="#fff" stroke="#e5301b" stroke-width="1.3"/>
<rect x="468.65" y="118.25" width="4.9" height="4.9" fill="#fff" stroke="#e5301b" stroke-width="1.3"/>
<rect x="472.15" y="124.25" width="4.9" height="4.9" fill="#fff" stroke="#e5301b" stroke-width="1.3"/>
<rect x="474.65" y="126.35" width="4.9" height="4.9" fill="#fff" stroke="#e5301b" stroke-width="1.3"/>
<rect x="479.75" y="128.75" width="4.9" height="4.9" fill="#fff" stroke="#e5301b" stroke-width="1.3"/>
<rect x="489.15" y="130.65" width="4.9" height="4.9" fill="#fff" stroke="#e5301b" stroke-width="1.3"/>
<rect x="494.15" y="131.05" width="4.9" height="4.9" fill="#fff" stroke="#e5301b" stroke-width="1.3"/>
<rect x="502.35" y="131.15" width="4.9" height="4.9" fill="#fff" stroke="#e5301b" stroke-width="1.3"/>
<rect x="509.15" y="131.45" width="4.9" height="4.9" fill="#fff" stroke="#e5301b" stroke-width="1.3"/>
<circle cx="137.4" cy="21.6" r="2.2" fill="#000" stroke="#1d7fcc" stroke-width="1.5"/>
<circle cx="172.1" cy="153.8" r="2.2" fill="#000" stroke="#1d7fcc" stroke-width="1.5"/>
<circle cx="198.2" cy="214.6" r="2.2" fill="#000" stroke="#1d7fcc" stroke-width="1.5"/>
<circle cx="137.4" cy="213" r="2.2" fill="#000" stroke="#ea8a14" stroke-width="1.5"/>
<circle cx="172.1" cy="166" r="2.2" fill="#000" stroke="#ea8a14" stroke-width="1.5"/>
<circle cx="198.2" cy="220.6" r="2.2" fill="#000" stroke="#ea8a14" stroke-width="1.5"/>
<text x="141" y="31.3" font-size="11.5" text-anchor="start" fill="#111" >E</text>
<text x="159.3" y="158.9" font-size="11.5" text-anchor="start" fill="#111" >C</text>
<text x="159.5" y="170.3" font-size="11.5" text-anchor="start" fill="#111" >D</text>
<text x="141" y="225.2" font-size="11.5" text-anchor="start" fill="#111" >F</text>
<text x="202.4" y="216.6" font-size="11.5" text-anchor="start" fill="#111" >A</text>
<text x="202.8" y="227.6" font-size="11.5" text-anchor="start" fill="#111" >B</text>
<text x="43" y="19.4" font-size="13" text-anchor="start" fill="#111" >(a)</text>
<text x="140.1" y="19.4" font-size="13" text-anchor="start" fill="#111" >(b)</text>
<text x="232.8" y="19.4" font-size="13" text-anchor="start" fill="#111" >(c)</text>
<text x="317.2" y="19.4" font-size="13" text-anchor="start" fill="#111" >(d)</text>
<text x="416.9" y="19.4" font-size="13" text-anchor="start" fill="#111" >(e)</text>
<path d="M148.5 26.6h17" stroke="#1d7fcc" stroke-width="1.1" stroke-dasharray="3.2 2"/>
<circle cx="155.8" cy="26.6" r="2.4" fill="#fff" stroke="#1d7fcc" stroke-width="1.3"/>
<text x="169.8" y="31" font-size="12.8" text-anchor="start" fill="#111" >odd</text>
<path d="M148.5 42.4h17" stroke="#ea8a14" stroke-width="1.1" stroke-dasharray="3.2 2"/>
<circle cx="155.8" cy="42.4" r="2.4" fill="#fff" stroke="#ea8a14" stroke-width="1.3"/>
<text x="169.8" y="46.8" font-size="12.8" text-anchor="start" fill="#111" >even</text>
<path d="M235.9 26.6h17" stroke="#1d7fcc" stroke-width="1.1" stroke-dasharray="3.2 2"/>
<circle cx="243.2" cy="26.6" r="2.4" fill="#fff" stroke="#1d7fcc" stroke-width="1.3"/>
<text x="257.4" y="31" font-size="12.8" text-anchor="start" fill="#111" >odd</text>
<path d="M235.9 42.4h17" stroke="#ea8a14" stroke-width="1.1" stroke-dasharray="3.2 2"/>
<circle cx="243.2" cy="42.4" r="2.4" fill="#fff" stroke="#ea8a14" stroke-width="1.3"/>
<text x="257.4" y="46.8" font-size="12.8" text-anchor="start" fill="#111" >even</text>
<path d="M359.0 25.9h20" stroke="#2188d2" stroke-width="1.1" stroke-dasharray="3.2 2"/>
<path d="M370.5 23.4L373.7 28.4H367.3Z" fill="#fff" stroke="#2188d2" stroke-width="1.1" stroke-linejoin="miter"/>
<text x="385.2" y="29.1" font-size="12.6" fill="#111" font-family="Liberation Serif, serif">&#915;</text>
<text x="392.6" y="23.7" font-size="9.3" fill="#111">odd</text>
<text x="392.8" y="35.3" font-size="9.3" fill="#111">1</text>
<path d="M359.0 49.4h20" stroke="#1e2c98" stroke-width="1.1" stroke-dasharray="3.2 2"/>
<rect x="368.05" y="46.95" width="4.9" height="4.9" fill="#fff" stroke="#1e2c98" stroke-width="1.3"/>
<text x="385.2" y="52.6" font-size="12.6" fill="#111" font-family="Liberation Serif, serif">&#915;</text>
<text x="392.6" y="47.2" font-size="9.3" fill="#111">odd</text>
<text x="392.8" y="58.8" font-size="9.3" fill="#111">2</text>
<path d="M460.9 25.9h17.5" stroke="#ea8a14" stroke-width="1.1" stroke-dasharray="3.2 2"/>
<path d="M467.9 23.4L471.1 28.4H464.7Z" fill="#fff" stroke="#ea8a14" stroke-width="1.1" stroke-linejoin="miter"/>
<text x="482.5" y="29.1" font-size="12.6" fill="#111" font-family="Liberation Serif, serif">&#915;</text>
<text x="489.9" y="23.7" font-size="9.3" fill="#111">even</text>
<text x="490.1" y="35.3" font-size="9.3" fill="#111">1</text>
<path d="M460.9 49.4h17.5" stroke="#e5301b" stroke-width="1.1" stroke-dasharray="3.2 2"/>
<rect x="465.45" y="46.95" width="4.9" height="4.9" fill="#fff" stroke="#e5301b" stroke-width="1.3"/>
<text x="482.5" y="52.6" font-size="12.6" fill="#111" font-family="Liberation Serif, serif">&#915;</text>
<text x="489.9" y="47.2" font-size="9.3" fill="#111">even</text>
<text x="490.1" y="58.8" font-size="9.3" fill="#111">2</text>
<text transform="translate(9.4,118.5) rotate(-90)" text-anchor="middle" font-size="12" fill="#111">Re(q)c/<tspan font-size="9">&#969;</tspan></text>
<text transform="translate(118.6,120) rotate(-90)" text-anchor="middle" font-size="12" fill="#111">Im(q)c/<tspan font-size="9">&#969;</tspan></text>
<text transform="translate(209,118.2) rotate(-90)" text-anchor="middle" font-size="12" fill="#111">Re(q)/Im(q)</text>
<defs><linearGradient id="fb0" x1="0" y1="0" x2="0.333333" y2="0" spreadMethod="repeat"><stop offset="0.0000" stop-color="#ff1400"/><stop offset="0.0312" stop-color="#f91300"/><stop offset="0.0625" stop-color="#e61000"/><stop offset="0.0938" stop-color="#c90c00"/><stop offset="0.1250" stop-color="#a30800"/><stop offset="0.1562" stop-color="#770400"/><stop offset="0.1875" stop-color="#490200"/><stop offset="0.2188" stop-color="#1e0000"/><stop offset="0.2500" stop-color="#000000"/><stop offset="0.2812" stop-color="#00001e"/><stop offset="0.3125" stop-color="#000249"/><stop offset="0.3438" stop-color="#000777"/><stop offset="0.3750" stop-color="#000ca3"/><stop offset="0.4062" stop-color="#0013c9"/><stop offset="0.4375" stop-color="#0018e6"/><stop offset="0.4688" stop-color="#001df9"/><stop offset="0.5000" stop-color="#001eff"/><stop offset="0.5312" stop-color="#001df9"/><stop offset="0.5625" stop-color="#0018e6"/><stop offset="0.5938" stop-color="#0013c9"/><stop offset="0.6250" stop-color="#000ca3"/><stop offset="0.6562" stop-color="#000777"/><stop offset="0.6875" stop-color="#000249"/><stop offset="0.7188" stop-color="#00001e"/><stop offset="0.7500" stop-color="#000000"/><stop offset="0.7812" stop-color="#1e0000"/><stop offset="0.8125" stop-color="#490200"/><stop offset="0.8438" stop-color="#770400"/><stop offset="0.8750" stop-color="#a30800"/><stop offset="0.9062" stop-color="#c90c00"/><stop offset="0.9375" stop-color="#e61000"/><stop offset="0.9688" stop-color="#f91300"/><stop offset="1.0000" stop-color="#ff1400"/></linearGradient><linearGradient id="fb1" x1="0" y1="0" x2="0.333333" y2="0" spreadMethod="repeat"><stop offset="0.0000" stop-color="#ff1400"/><stop offset="0.0312" stop-color="#ff1400"/><stop offset="0.0625" stop-color="#ff1400"/><stop offset="0.0938" stop-color="#ff1400"/><stop offset="0.1250" stop-color="#e51000"/><stop offset="0.1562" stop-color="#a70900"/><stop offset="0.1875" stop-color="#670300"/><stop offset="0.2188" stop-color="#2b0100"/><stop offset="0.2500" stop-color="#000000"/><stop offset="0.2812" stop-color="#00012b"/><stop offset="0.3125" stop-color="#000567"/><stop offset="0.3438" stop-color="#000da7"/><stop offset="0.3750" stop-color="#0018e5"/><stop offset="0.4062" stop-color="#001eff"/><stop offset="0.4375" stop-color="#001eff"/><stop offset="0.4688" stop-color="#001eff"/><stop offset="0.5000" stop-color="#001eff"/><stop offset="0.5312" stop-color="#001eff"/><stop offset="0.5625" stop-color="#001eff"/><stop offset="0.5938" stop-color="#001eff"/><stop offset="0.6250" stop-color="#0018e5"/><stop offset="0.6562" stop-color="#000da7"/><stop offset="0.6875" stop-color="#000567"/><stop offset="0.7188" stop-color="#00012b"/><stop offset="0.7500" stop-color="#000000"/><stop offset="0.7812" stop-color="#2b0100"/><stop offset="0.8125" stop-color="#670300"/><stop offset="0.8438" stop-color="#a70900"/><stop offset="0.8750" stop-color="#e51000"/><stop offset="0.9062" stop-color="#ff1400"/><stop offset="0.9375" stop-color="#ff1400"/><stop offset="0.9688" stop-color="#ff1400"/><stop offset="1.0000" stop-color="#ff1400"/></linearGradient><linearGradient id="fb2" x1="0" y1="0" x2="0.333333" y2="0" spreadMethod="repeat"><stop offset="0.0000" stop-color="#ff1400"/><stop offset="0.0312" stop-color="#ff1400"/><stop offset="0.0625" stop-color="#ff1400"/><stop offset="0.0938" stop-color="#ff1400"/><stop offset="0.1250" stop-color="#ff1400"/><stop offset="0.1562" stop-color="#ed1100"/><stop offset="0.1875" stop-color="#920700"/><stop offset="0.2188" stop-color="#3d0100"/><stop offset="0.2500" stop-color="#000000"/><stop offset="0.2812" stop-color="#00023d"/><stop offset="0.3125" stop-color="#000a92"/><stop offset="0.3438" stop-color="#001aed"/><stop offset="0.3750" stop-color="#001eff"/><stop offset="0.4062" stop-color="#001eff"/><stop offset="0.4375" stop-color="#001eff"/><stop offset="0.4688" stop-color="#001eff"/><stop offset="0.5000" stop-color="#001eff"/><stop offset="0.5312" stop-color="#001eff"/><stop offset="0.5625" stop-color="#001eff"/><stop offset="0.5938" stop-color="#001eff"/><stop offset="0.6250" stop-color="#001eff"/><stop offset="0.6562" stop-color="#001aed"/><stop offset="0.6875" stop-color="#000a92"/><stop offset="0.7188" stop-color="#00023d"/><stop offset="0.7500" stop-color="#000000"/><stop offset="0.7812" stop-color="#3d0100"/><stop offset="0.8125" stop-color="#920700"/><stop offset="0.8438" stop-color="#ed1100"/><stop offset="0.8750" stop-color="#ff1400"/><stop offset="0.9062" stop-color="#ff1400"/><stop offset="0.9375" stop-color="#ff1400"/><stop offset="0.9688" stop-color="#ff1400"/><stop offset="1.0000" stop-color="#ff1400"/></linearGradient><linearGradient id="fb3" x1="0" y1="0" x2="0.333333" y2="0" spreadMethod="repeat"><stop offset="0.0000" stop-color="#ff1400"/><stop offset="0.0312" stop-color="#ff1400"/><stop offset="0.0625" stop-color="#ff1400"/><stop offset="0.0938" stop-color="#ff1400"/><stop offset="0.1250" stop-color="#ff1400"/><stop offset="0.1562" stop-color="#ff1400"/><stop offset="0.1875" stop-color="#cc0d00"/><stop offset="0.2188" stop-color="#550200"/><stop offset="0.2500" stop-color="#000000"/><stop offset="0.2812" stop-color="#000355"/><stop offset="0.3125" stop-color="#0013cc"/><stop offset="0.3438" stop-color="#001eff"/><stop offset="0.3750" stop-color="#001eff"/><stop offset="0.4062" stop-color="#001eff"/><stop offset="0.4375" stop-color="#001eff"/><stop offset="0.4688" stop-color="#001eff"/><stop offset="0.5000" stop-color="#001eff"/><stop offset="0.5312" stop-color="#001eff"/><stop offset="0.5625" stop-color="#001eff"/><stop offset="0.5938" stop-color="#001eff"/><stop offset="0.6250" stop-color="#001eff"/><stop offset="0.6562" stop-color="#001eff"/><stop offset="0.6875" stop-color="#0013cc"/><stop offset="0.7188" stop-color="#000355"/><stop offset="0.7500" stop-color="#000000"/><stop offset="0.7812" stop-color="#550200"/><stop offset="0.8125" stop-color="#cc0d00"/><stop offset="0.8438" stop-color="#ff1400"/><stop offset="0.8750" stop-color="#ff1400"/><stop offset="0.9062" stop-color="#ff1400"/><stop offset="0.9375" stop-color="#ff1400"/><stop offset="0.9688" stop-color="#ff1400"/><stop offset="1.0000" stop-color="#ff1400"/></linearGradient><linearGradient id="fb4" x1="0" y1="0" x2="0.333333" y2="0" spreadMethod="repeat"><stop offset="0.0000" stop-color="#ff1400"/><stop offset="0.0312" stop-color="#ff1400"/><stop offset="0.0625" stop-color="#ff1400"/><stop offset="0.0938" stop-color="#ff1400"/><stop offset="0.1250" stop-color="#ff1400"/><stop offset="0.1562" stop-color="#ff1400"/><stop offset="0.1875" stop-color="#ff1400"/><stop offset="0.2188" stop-color="#7a0500"/><stop offset="0.2500" stop-color="#000000"/><stop offset="0.2812" stop-color="#00077a"/><stop offset="0.3125" stop-color="#001eff"/><stop offset="0.3438" stop-color="#001eff"/><stop offset="0.3750" stop-color="#001eff"/><stop offset="0.4062" stop-color="#001eff"/><stop offset="0.4375" stop-color="#001eff"/><stop offset="0.4688" stop-color="#001eff"/><stop offset="0.5000" stop-color="#001eff"/><stop offset="0.5312" stop-color="#001eff"/><stop offset="0.5625" stop-color="#001eff"/><stop offset="0.5938" stop-color="#001eff"/><stop offset="0.6250" stop-color="#001eff"/><stop offset="0.6562" stop-color="#001eff"/><stop offset="0.6875" stop-color="#001eff"/><stop offset="0.7188" stop-color="#00077a"/><stop offset="0.7500" stop-color="#000000"/><stop offset="0.7812" stop-color="#7a0500"/><stop offset="0.8125" stop-color="#ff1400"/><stop offset="0.8438" stop-color="#ff1400"/><stop offset="0.8750" stop-color="#ff1400"/><stop offset="0.9062" stop-color="#ff1400"/><stop offset="0.9375" stop-color="#ff1400"/><stop offset="0.9688" stop-color="#ff1400"/><stop offset="1.0000" stop-color="#ff1400"/></linearGradient><linearGradient id="fb5" x1="0" y1="0" x2="0.333333" y2="0" spreadMethod="repeat"><stop offset="0.0000" stop-color="#ff1400"/><stop offset="0.0312" stop-color="#ff1400"/><stop offset="0.0625" stop-color="#ff1400"/><stop offset="0.0938" stop-color="#ff1400"/><stop offset="0.1250" stop-color="#ff1400"/><stop offset="0.1562" stop-color="#ff1400"/><stop offset="0.1875" stop-color="#ff1400"/><stop offset="0.2188" stop-color="#ad0900"/><stop offset="0.2500" stop-color="#000000"/><stop offset="0.2812" stop-color="#000ead"/><stop offset="0.3125" stop-color="#001eff"/><stop offset="0.3438" stop-color="#001eff"/><stop offset="0.3750" stop-color="#001eff"/><stop offset="0.4062" stop-color="#001eff"/><stop offset="0.4375" stop-color="#001eff"/><stop offset="0.4688" stop-color="#001eff"/><stop offset="0.5000" stop-color="#001eff"/><stop offset="0.5312" stop-color="#001eff"/><stop offset="0.5625" stop-color="#001eff"/><stop offset="0.5938" stop-color="#001eff"/><stop offset="0.6250" stop-color="#001eff"/><stop offset="0.6562" stop-color="#001eff"/><stop offset="0.6875" stop-color="#001eff"/><stop offset="0.7188" stop-color="#000ead"/><stop offset="0.7500" stop-color="#000000"/><stop offset="0.7812" stop-color="#ad0900"/><stop offset="0.8125" stop-color="#ff1400"/><stop offset="0.8438" stop-color="#ff1400"/><stop offset="0.8750" stop-color="#ff1400"/><stop offset="0.9062" stop-color="#ff1400"/><stop offset="0.9375" stop-color="#ff1400"/><stop offset="0.9688" stop-color="#ff1400"/><stop offset="1.0000" stop-color="#ff1400"/></linearGradient><linearGradient id="fb6" x1="0" y1="0" x2="0.333333" y2="0" spreadMethod="repeat"><stop offset="0.0000" stop-color="#ff1400"/><stop offset="0.0312" stop-color="#ff1400"/><stop offset="0.0625" stop-color="#ff1400"/><stop offset="0.0938" stop-color="#ff1400"/><stop offset="0.1250" stop-color="#ff1400"/><stop offset="0.1562" stop-color="#ff1400"/><stop offset="0.1875" stop-color="#ff1400"/><stop offset="0.2188" stop-color="#f71300"/><stop offset="0.2500" stop-color="#000000"/><stop offset="0.2812" stop-color="#001cf7"/><stop offset="0.3125" stop-color="#001eff"/><stop offset="0.3438" stop-color="#001eff"/><stop offset="0.3750" stop-color="#001eff"/><stop offset="0.4062" stop-color="#001eff"/><stop offset="0.4375" stop-color="#001eff"/><stop offset="0.4688" stop-color="#001eff"/><stop offset="0.5000" stop-color="#001eff"/><stop offset="0.5312" stop-color="#001eff"/><stop offset="0.5625" stop-color="#001eff"/><stop offset="0.5938" stop-color="#001eff"/><stop offset="0.6250" stop-color="#001eff"/><stop offset="0.6562" stop-color="#001eff"/><stop offset="0.6875" stop-color="#001eff"/><stop offset="0.7188" stop-color="#001cf7"/><stop offset="0.7500" stop-color="#000000"/><stop offset="0.7812" stop-color="#f71300"/><stop offset="0.8125" stop-color="#ff1400"/><stop offset="0.8438" stop-color="#ff1400"/><stop offset="0.8750" stop-color="#ff1400"/><stop offset="0.9062" stop-color="#ff1400"/><stop offset="0.9375" stop-color="#ff1400"/><stop offset="0.9688" stop-color="#ff1400"/><stop offset="1.0000" stop-color="#ff1400"/></linearGradient><clipPath id="fc0"><rect x="523.3" y="6.7" width="76.0" height="34.2"/></clipPath><clipPath id="fc1"><rect x="523.3" y="44.4" width="76.0" height="34.2"/></clipPath><clipPath id="fc2"><rect x="523.3" y="82.1" width="76.0" height="34.2"/></clipPath><clipPath id="fc3"><rect x="523.3" y="119.8" width="76.0" height="34.2"/></clipPath><clipPath id="fc4"><rect x="523.3" y="157.5" width="76.0" height="34.2"/></clipPath><linearGradient id="fe157" gradientUnits="userSpaceOnUse" x1="523.3" y1="0" x2="553.3" y2="0"><stop offset="0.000" stop-color="#1b0000"/><stop offset="0.050" stop-color="#160000"/><stop offset="0.100" stop-color="#110000"/><stop offset="0.150" stop-color="#0c0000"/><stop offset="0.200" stop-color="#080000"/><stop offset="0.250" stop-color="#050000"/><stop offset="0.300" stop-color="#020000"/><stop offset="0.350" stop-color="#010000"/><stop offset="0.400" stop-color="#000001"/><stop offset="0.450" stop-color="#000002"/><stop offset="0.500" stop-color="#000002"/><stop offset="0.550" stop-color="#000002"/><stop offset="0.600" stop-color="#000002"/><stop offset="0.650" stop-color="#000002"/><stop offset="0.700" stop-color="#000002"/><stop offset="0.750" stop-color="#000002"/><stop offset="0.800" stop-color="#000001"/><stop offset="0.850" stop-color="#000001"/><stop offset="0.900" stop-color="#000001"/><stop offset="0.950" stop-color="#000000"/><stop offset="1.000" stop-color="#000000"/></linearGradient><linearGradient id="fe158" gradientUnits="userSpaceOnUse" x1="523.3" y1="0" x2="553.3" y2="0"><stop offset="0.000" stop-color="#230000"/><stop offset="0.050" stop-color="#1c0000"/><stop offset="0.100" stop-color="#160000"/><stop offset="0.150" stop-color="#100000"/><stop offset="0.200" stop-color="#0b0000"/><stop offset="0.250" stop-color="#070000"/><stop offset="0.300" stop-color="#030000"/><stop offset="0.350" stop-color="#010000"/><stop offset="0.400" stop-color="#000001"/><stop offset="0.450" stop-color="#000002"/><stop offset="0.500" stop-color="#000003"/><stop offset="0.550" stop-color="#000003"/><stop offset="0.600" stop-color="#000003"/><stop offset="0.650" stop-color="#000003"/><stop offset="0.700" stop-color="#000003"/><stop offset="0.750" stop-color="#000002"/><stop offset="0.800" stop-color="#000002"/><stop offset="0.850" stop-color="#000001"/><stop offset="0.900" stop-color="#000001"/><stop offset="0.950" stop-color="#000001"/><stop offset="1.000" stop-color="#000000"/></linearGradient><linearGradient id="fe159" gradientUnits="userSpaceOnUse" x1="523.3" y1="0" x2="553.3" y2="0"><stop offset="0.000" stop-color="#2d0100"/><stop offset="0.050" stop-color="#240000"/><stop offset="0.100" stop-color="#1c0000"/><stop offset="0.150" stop-color="#140000"/><stop offset="0.200" stop-color="#0e0000"/><stop offset="0.250" stop-color="#080000"/><stop offset="0.300" stop-color="#040000"/><stop offset="0.350" stop-color="#010000"/><stop offset="0.400" stop-color="#000001"/><stop offset="0.450" stop-color="#000003"/><stop offset="0.500" stop-color="#000004"/><stop offset="0.550" stop-color="#000004"/><stop offset="0.600" stop-color="#000004"/><stop offset="0.650" stop-color="#000004"/><stop offset="0.700" stop-color="#000003"/><stop offset="0.750" stop-color="#000003"/><stop offset="0.800" stop-color="#000002"/><stop offset="0.850" stop-color="#000002"/><stop offset="0.900" stop-color="#000001"/><stop offset="0.950" stop-color="#000001"/><stop offset="1.000" stop-color="#000000"/></linearGradient><linearGradient id="fe160" gradientUnits="userSpaceOnUse" x1="523.3" y1="0" x2="553.3" y2="0"><stop offset="0.000" stop-color="#3a0100"/><stop offset="0.050" stop-color="#2f0100"/><stop offset="0.100" stop-color="#240000"/><stop offset="0.150" stop-color="#1a0000"/><stop offset="0.200" stop-color="#120000"/><stop offset="0.250" stop-color="#0b0000"/><stop offset="0.300" stop-color="#050000"/><stop offset="0.350" stop-color="#010000"/><stop offset="0.400" stop-color="#000002"/><stop offset="0.450" stop-color="#000004"/><stop offset="0.500" stop-color="#000005"/><stop offset="0.550" stop-color="#000005"/><stop offset="0.600" stop-color="#000005"/><stop offset="0.650" stop-color="#000005"/><stop offset="0.700" stop-color="#000004"/><stop offset="0.750" stop-color="#000003"/><stop offset="0.800" stop-color="#000003"/><stop offset="0.850" stop-color="#000002"/><stop offset="0.900" stop-color="#000001"/><stop offset="0.950" stop-color="#000001"/><stop offset="1.000" stop-color="#000001"/></linearGradient><linearGradient id="fe161" gradientUnits="userSpaceOnUse" x1="523.3" y1="0" x2="553.3" y2="0"><stop offset="0.000" stop-color="#4a0200"/><stop offset="0.050" stop-color="#3c0100"/><stop offset="0.100" stop-color="#2e0100"/><stop offset="0.150" stop-color="#220000"/><stop offset="0.200" stop-color="#170000"/><stop offset="0.250" stop-color="#0e0000"/><stop offset="0.300" stop-color="#070000"/><stop offset="0.350" stop-color="#010000"/><stop offset="0.400" stop-color="#000002"/><stop offset="0.450" stop-color="#000005"/><stop offset="0.500" stop-color="#000006"/><stop offset="0.550" stop-color="#000007"/><stop offset="0.600" stop-color="#000007"/><stop offset="0.650" stop-color="#000006"/><stop offset="0.700" stop-color="#000005"/><stop offset="0.750" stop-color="#000004"/><stop offset="0.800" stop-color="#000004"/><stop offset="0.850" stop-color="#000003"/><stop offset="0.900" stop-color="#000002"/><stop offset="0.950" stop-color="#000001"/><stop offset="1.000" stop-color="#000001"/></linearGradient><linearGradient id="fe162" gradientUnits="userSpaceOnUse" x1="523.3" y1="0" x2="553.3" y2="0"><stop offset="0.000" stop-color="#5f0300"/><stop offset="0.050" stop-color="#4d0200"/><stop offset="0.100" stop-color="#3b0100"/><stop offset="0.150" stop-color="#2b0100"/><stop offset="0.200" stop-color="#1d0000"/><stop offset="0.250" stop-color="#120000"/><stop offset="0.300" stop-color="#090000"/><stop offset="0.350" stop-color="#020000"/><stop offset="0.400" stop-color="#000003"/><stop offset="0.450" stop-color="#000006"/><stop offset="0.500" stop-color="#000008"/><stop offset="0.550" stop-color="#000009"/><stop offset="0.600" stop-color="#000008"/><stop offset="0.650" stop-color="#000008"/><stop offset="0.700" stop-color="#000007"/><stop offset="0.750" stop-color="#000006"/><stop offset="0.800" stop-color="#000005"/><stop offset="0.850" stop-color="#000003"/><stop offset="0.900" stop-color="#000002"/><stop offset="0.950" stop-color="#000002"/><stop offset="1.000" stop-color="#000001"/></linearGradient><linearGradient id="fe163" gradientUnits="userSpaceOnUse" x1="523.3" y1="0" x2="553.3" y2="0"><stop offset="0.000" stop-color="#7a0500"/><stop offset="0.050" stop-color="#630300"/><stop offset="0.100" stop-color="#4c0200"/><stop offset="0.150" stop-color="#380100"/><stop offset="0.200" stop-color="#260000"/><stop offset="0.250" stop-color="#170000"/><stop offset="0.300" stop-color="#0b0000"/><stop offset="0.350" stop-color="#020000"/><stop offset="0.400" stop-color="#000004"/><stop offset="0.450" stop-color="#000008"/><stop offset="0.500" stop-color="#00000a"/><stop offset="0.550" stop-color="#00000b"/><stop offset="0.600" stop-color="#00000b"/><stop offset="0.650" stop-color="#00000a"/><stop offset="0.700" stop-color="#000009"/><stop offset="0.750" stop-color="#000007"/><stop offset="0.800" stop-color="#000006"/><stop offset="0.850" stop-color="#000004"/><stop offset="0.900" stop-color="#000003"/><stop offset="0.950" stop-color="#000002"/><stop offset="1.000" stop-color="#000001"/></linearGradient><linearGradient id="fe164" gradientUnits="userSpaceOnUse" x1="523.3" y1="0" x2="553.3" y2="0"><stop offset="0.000" stop-color="#9d0800"/><stop offset="0.050" stop-color="#7f0500"/><stop offset="0.100" stop-color="#620300"/><stop offset="0.150" stop-color="#480200"/><stop offset="0.200" stop-color="#300100"/><stop offset="0.250" stop-color="#1d0000"/><stop offset="0.300" stop-color="#0e0000"/><stop offset="0.350" stop-color="#030000"/><stop offset="0.400" stop-color="#000005"/><stop offset="0.450" stop-color="#00000a"/><stop offset="0.500" stop-color="#00000d"/><stop offset="0.550" stop-color="#00000e"/><stop offset="0.600" stop-color="#00000e"/><stop offset="0.650" stop-color="#00000d"/><stop offset="0.700" stop-color="#00000b"/><stop offset="0.750" stop-color="#000009"/><stop offset="0.800" stop-color="#000007"/><stop offset="0.850" stop-color="#000006"/><stop offset="0.900" stop-color="#000004"/><stop offset="0.950" stop-color="#000003"/><stop offset="1.000" stop-color="#000002"/></linearGradient><linearGradient id="fe165" gradientUnits="userSpaceOnUse" x1="523.3" y1="0" x2="553.3" y2="0"><stop offset="0.000" stop-color="#c90c00"/><stop offset="0.050" stop-color="#a30800"/><stop offset="0.100" stop-color="#7e0500"/><stop offset="0.150" stop-color="#5c0300"/><stop offset="0.200" stop-color="#3e0100"/><stop offset="0.250" stop-color="#260000"/><stop offset="0.300" stop-color="#120000"/><stop offset="0.350" stop-color="#040000"/><stop offset="0.400" stop-color="#000006"/><stop offset="0.450" stop-color="#00000d"/><stop offset="0.500" stop-color="#000011"/><stop offset="0.550" stop-color="#000012"/><stop offset="0.600" stop-color="#000012"/><stop offset="0.650" stop-color="#000010"/><stop offset="0.700" stop-color="#00000e"/><stop offset="0.750" stop-color="#00000c"/><stop offset="0.800" stop-color="#00000a"/><stop offset="0.850" stop-color="#000007"/><stop offset="0.900" stop-color="#000005"/><stop offset="0.950" stop-color="#000003"/><stop offset="1.000" stop-color="#000002"/></linearGradient><linearGradient id="fe166" gradientUnits="userSpaceOnUse" x1="523.3" y1="0" x2="553.3" y2="0"><stop offset="0.000" stop-color="#ff1400"/><stop offset="0.050" stop-color="#d10d00"/><stop offset="0.100" stop-color="#a20800"/><stop offset="0.150" stop-color="#760400"/><stop offset="0.200" stop-color="#500200"/><stop offset="0.250" stop-color="#310100"/><stop offset="0.300" stop-color="#180000"/><stop offset="0.350" stop-color="#050000"/><stop offset="0.400" stop-color="#000008"/><stop offset="0.450" stop-color="#000011"/><stop offset="0.500" stop-color="#000015"/><stop offset="0.550" stop-color="#000017"/><stop offset="0.600" stop-color="#000017"/><stop offset="0.650" stop-color="#000015"/><stop offset="0.700" stop-color="#000013"/><stop offset="0.750" stop-color="#00000f"/><stop offset="0.800" stop-color="#00000c"/><stop offset="0.850" stop-color="#000009"/><stop offset="0.900" stop-color="#000007"/><stop offset="0.950" stop-color="#000004"/><stop offset="1.000" stop-color="#000003"/></linearGradient><linearGradient id="fe167" gradientUnits="userSpaceOnUse" x1="523.3" y1="0" x2="553.3" y2="0"><stop offset="0.000" stop-color="#ff1400"/><stop offset="0.050" stop-color="#ff1400"/><stop offset="0.100" stop-color="#cf0d00"/><stop offset="0.150" stop-color="#970700"/><stop offset="0.200" stop-color="#670300"/><stop offset="0.250" stop-color="#3e0100"/><stop offset="0.300" stop-color="#1e0000"/><stop offset="0.350" stop-color="#060000"/><stop offset="0.400" stop-color="#00000b"/><stop offset="0.450" stop-color="#000015"/><stop offset="0.500" stop-color="#00001c"/><stop offset="0.550" stop-color="#00001e"/><stop offset="0.600" stop-color="#00001d"/><stop offset="0.650" stop-color="#00001b"/><stop offset="0.700" stop-color="#000018"/><stop offset="0.750" stop-color="#000014"/><stop offset="0.800" stop-color="#000010"/><stop offset="0.850" stop-color="#00000c"/><stop offset="0.900" stop-color="#000009"/><stop offset="0.950" stop-color="#000006"/><stop offset="1.000" stop-color="#000003"/></linearGradient><linearGradient id="fe168" gradientUnits="userSpaceOnUse" x1="523.3" y1="0" x2="553.3" y2="0"><stop offset="0.000" stop-color="#ff1400"/><stop offset="0.050" stop-color="#ff1400"/><stop offset="0.100" stop-color="#ff1400"/><stop offset="0.150" stop-color="#c20c00"/><stop offset="0.200" stop-color="#840500"/><stop offset="0.250" stop-color="#500200"/><stop offset="0.300" stop-color="#270000"/><stop offset="0.350" stop-color="#080000"/><stop offset="0.400" stop-color="#00000e"/><stop offset="0.450" stop-color="#00001c"/><stop offset="0.500" stop-color="#000123"/><stop offset="0.550" stop-color="#000126"/><stop offset="0.600" stop-color="#000126"/><stop offset="0.650" stop-color="#000123"/><stop offset="0.700" stop-color="#00001f"/><stop offset="0.750" stop-color="#00001a"/><stop offset="0.800" stop-color="#000014"/><stop offset="0.850" stop-color="#00000f"/><stop offset="0.900" stop-color="#00000b"/><stop offset="0.950" stop-color="#000007"/><stop offset="1.000" stop-color="#000004"/></linearGradient><linearGradient id="fe169" gradientUnits="userSpaceOnUse" x1="523.3" y1="0" x2="553.3" y2="0"><stop offset="0.000" stop-color="#ff1400"/><stop offset="0.050" stop-color="#ff1400"/><stop offset="0.100" stop-color="#ff1400"/><stop offset="0.150" stop-color="#fa1300"/><stop offset="0.200" stop-color="#a90900"/><stop offset="0.250" stop-color="#670300"/><stop offset="0.300" stop-color="#320100"/><stop offset="0.350" stop-color="#0b0000"/><stop offset="0.400" stop-color="#000011"/><stop offset="0.450" stop-color="#000123"/><stop offset="0.500" stop-color="#00012d"/><stop offset="0.550" stop-color="#000131"/><stop offset="0.600" stop-color="#000131"/><stop offset="0.650" stop-color="#00012d"/><stop offset="0.700" stop-color="#000127"/><stop offset="0.750" stop-color="#000021"/><stop offset="0.800" stop-color="#00001a"/><stop offset="0.850" stop-color="#000014"/><stop offset="0.900" stop-color="#00000e"/><stop offset="0.950" stop-color="#000009"/><stop offset="1.000" stop-color="#000005"/></linearGradient><linearGradient id="fe170" gradientUnits="userSpaceOnUse" x1="523.3" y1="0" x2="553.3" y2="0"><stop offset="0.000" stop-color="#001eff"/><stop offset="0.050" stop-color="#001eff"/><stop offset="0.100" stop-color="#001eff"/><stop offset="0.150" stop-color="#001bf3"/><stop offset="0.200" stop-color="#000da8"/><stop offset="0.250" stop-color="#000568"/><stop offset="0.300" stop-color="#000134"/><stop offset="0.350" stop-color="#00000b"/><stop offset="0.400" stop-color="#130000"/><stop offset="0.450" stop-color="#270000"/><stop offset="0.500" stop-color="#330100"/><stop offset="0.550" stop-color="#390100"/><stop offset="0.600" stop-color="#390100"/><stop offset="0.650" stop-color="#360100"/><stop offset="0.700" stop-color="#300100"/><stop offset="0.750" stop-color="#290100"/><stop offset="0.800" stop-color="#210000"/><stop offset="0.850" stop-color="#1a0000"/><stop offset="0.900" stop-color="#130000"/><stop offset="0.950" stop-color="#0d0000"/><stop offset="1.000" stop-color="#070000"/></linearGradient><linearGradient id="fe171" gradientUnits="userSpaceOnUse" x1="523.3" y1="0" x2="553.3" y2="0"><stop offset="0.000" stop-color="#001eff"/><stop offset="0.050" stop-color="#001eff"/><stop offset="0.100" stop-color="#001eff"/><stop offset="0.150" stop-color="#0012c3"/><stop offset="0.200" stop-color="#000887"/><stop offset="0.250" stop-color="#000354"/><stop offset="0.300" stop-color="#00012a"/><stop offset="0.350" stop-color="#000009"/><stop offset="0.400" stop-color="#0f0000"/><stop offset="0.450" stop-color="#1f0000"/><stop offset="0.500" stop-color="#290100"/><stop offset="0.550" stop-color="#2d0100"/><stop offset="0.600" stop-color="#2e0100"/><stop offset="0.650" stop-color="#2b0100"/><stop offset="0.700" stop-color="#270000"/><stop offset="0.750" stop-color="#210000"/><stop offset="0.800" stop-color="#1b0000"/><stop offset="0.850" stop-color="#150000"/><stop offset="0.900" stop-color="#0f0000"/><stop offset="0.950" stop-color="#0a0000"/><stop offset="1.000" stop-color="#060000"/></linearGradient><linearGradient id="fe172" gradientUnits="userSpaceOnUse" x1="523.3" y1="0" x2="553.3" y2="0"><stop offset="0.000" stop-color="#001eff"/><stop offset="0.050" stop-color="#001eff"/><stop offset="0.100" stop-color="#0014d1"/><stop offset="0.150" stop-color="#000b9c"/><stop offset="0.200" stop-color="#00056c"/><stop offset="0.250" stop-color="#000243"/><stop offset="0.300" stop-color="#000121"/><stop offset="0.350" stop-color="#000007"/><stop offset="0.400" stop-color="#0c0000"/><stop offset="0.450" stop-color="#190000"/><stop offset="0.500" stop-color="#210000"/><stop offset="0.550" stop-color="#240000"/><stop offset="0.600" stop-color="#250000"/><stop offset="0.650" stop-color="#220000"/><stop offset="0.700" stop-color="#1f0000"/><stop offset="0.750" stop-color="#1a0000"/><stop offset="0.800" stop-color="#150000"/><stop offset="0.850" stop-color="#110000"/><stop offset="0.900" stop-color="#0c0000"/><stop offset="0.950" stop-color="#080000"/><stop offset="1.000" stop-color="#050000"/></linearGradient><linearGradient id="fe173" gradientUnits="userSpaceOnUse" x1="523.3" y1="0" x2="553.3" y2="0"><stop offset="0.000" stop-color="#001eff"/><stop offset="0.050" stop-color="#0015d5"/><stop offset="0.100" stop-color="#000da8"/><stop offset="0.150" stop-color="#00077d"/><stop offset="0.200" stop-color="#000356"/><stop offset="0.250" stop-color="#000136"/><stop offset="0.300" stop-color="#00001b"/><stop offset="0.350" stop-color="#000006"/><stop offset="0.400" stop-color="#0a0000"/><stop offset="0.450" stop-color="#140000"/><stop offset="0.500" stop-color="#1a0000"/><stop offset="0.550" stop-color="#1d0000"/><stop offset="0.600" stop-color="#1d0000"/><stop offset="0.650" stop-color="#1c0000"/><stop offset="0.700" stop-color="#190000"/><stop offset="0.750" stop-color="#150000"/><stop offset="0.800" stop-color="#110000"/><stop offset="0.850" stop-color="#0d0000"/><stop offset="0.900" stop-color="#0a0000"/><stop offset="0.950" stop-color="#060000"/><stop offset="1.000" stop-color="#040000"/></linearGradient><linearGradient id="fe174" gradientUnits="userSpaceOnUse" x1="523.3" y1="0" x2="553.3" y2="0"><stop offset="0.000" stop-color="#0014ce"/><stop offset="0.050" stop-color="#000daa"/><stop offset="0.100" stop-color="#000886"/><stop offset="0.150" stop-color="#000564"/><stop offset="0.200" stop-color="#000245"/><stop offset="0.250" stop-color="#00012b"/><stop offset="0.300" stop-color="#000015"/><stop offset="0.350" stop-color="#000005"/><stop offset="0.400" stop-color="#080000"/><stop offset="0.450" stop-color="#100000"/><stop offset="0.500" stop-color="#150000"/><stop offset="0.550" stop-color="#170000"/><stop offset="0.600" stop-color="#170000"/><stop offset="0.650" stop-color="#160000"/><stop offset="0.700" stop-color="#140000"/><stop offset="0.750" stop-color="#110000"/><stop offset="0.800" stop-color="#0e0000"/><stop offset="0.850" stop-color="#0b0000"/><stop offset="0.900" stop-color="#080000"/><stop offset="0.950" stop-color="#050000"/><stop offset="1.000" stop-color="#030000"/></linearGradient><linearGradient id="fe175" gradientUnits="userSpaceOnUse" x1="523.3" y1="0" x2="553.3" y2="0"><stop offset="0.000" stop-color="#000da5"/><stop offset="0.050" stop-color="#000988"/><stop offset="0.100" stop-color="#00056c"/><stop offset="0.150" stop-color="#000350"/><stop offset="0.200" stop-color="#000137"/><stop offset="0.250" stop-color="#000122"/><stop offset="0.300" stop-color="#000011"/><stop offset="0.350" stop-color="#000004"/><stop offset="0.400" stop-color="#060000"/><stop offset="0.450" stop-color="#0d0000"/><stop offset="0.500" stop-color="#110000"/><stop offset="0.550" stop-color="#130000"/><stop offset="0.600" stop-color="#130000"/><stop offset="0.650" stop-color="#120000"/><stop offset="0.700" stop-color="#100000"/><stop offset="0.750" stop-color="#0e0000"/><stop offset="0.800" stop-color="#0b0000"/><stop offset="0.850" stop-color="#090000"/><stop offset="0.900" stop-color="#060000"/><stop offset="0.950" stop-color="#040000"/><stop offset="1.000" stop-color="#020000"/></linearGradient><linearGradient id="fe176" gradientUnits="userSpaceOnUse" x1="523.3" y1="0" x2="553.3" y2="0"><stop offset="0.000" stop-color="#000884"/><stop offset="0.050" stop-color="#00066d"/><stop offset="0.100" stop-color="#000356"/><stop offset="0.150" stop-color="#000240"/><stop offset="0.200" stop-color="#00012c"/><stop offset="0.250" stop-color="#00001c"/><stop offset="0.300" stop-color="#00000e"/><stop offset="0.350" stop-color="#000003"/><stop offset="0.400" stop-color="#050000"/><stop offset="0.450" stop-color="#0a0000"/><stop offset="0.500" stop-color="#0d0000"/><stop offset="0.550" stop-color="#0f0000"/><stop offset="0.600" stop-color="#0f0000"/><stop offset="0.650" stop-color="#0e0000"/><stop offset="0.700" stop-color="#0d0000"/><stop offset="0.750" stop-color="#0b0000"/><stop offset="0.800" stop-color="#090000"/><stop offset="0.850" stop-color="#070000"/><stop offset="0.900" stop-color="#050000"/><stop offset="0.950" stop-color="#030000"/><stop offset="1.000" stop-color="#020000"/></linearGradient><linearGradient id="fe177" gradientUnits="userSpaceOnUse" x1="523.3" y1="0" x2="553.3" y2="0"><stop offset="0.000" stop-color="#00056a"/><stop offset="0.050" stop-color="#000457"/><stop offset="0.100" stop-color="#000245"/><stop offset="0.150" stop-color="#000133"/><stop offset="0.200" stop-color="#000124"/><stop offset="0.250" stop-color="#000016"/><stop offset="0.300" stop-color="#00000b"/><stop offset="0.350" stop-color="#000002"/><stop offset="0.400" stop-color="#040000"/><stop offset="0.450" stop-color="#080000"/><stop offset="0.500" stop-color="#0b0000"/><stop offset="0.550" stop-color="#0c0000"/><stop offset="0.600" stop-color="#0c0000"/><stop offset="0.650" stop-color="#0b0000"/><stop offset="0.700" stop-color="#0a0000"/><stop offset="0.750" stop-color="#090000"/><stop offset="0.800" stop-color="#070000"/><stop offset="0.850" stop-color="#050000"/><stop offset="0.900" stop-color="#040000"/><stop offset="0.950" stop-color="#030000"/><stop offset="1.000" stop-color="#020000"/></linearGradient><linearGradient id="fe178" gradientUnits="userSpaceOnUse" x1="523.3" y1="0" x2="553.3" y2="0"><stop offset="0.000" stop-color="#000355"/><stop offset="0.050" stop-color="#000246"/><stop offset="0.100" stop-color="#000137"/><stop offset="0.150" stop-color="#000129"/><stop offset="0.200" stop-color="#00001c"/><stop offset="0.250" stop-color="#000012"/><stop offset="0.300" stop-color="#000009"/><stop offset="0.350" stop-color="#000002"/><stop offset="0.400" stop-color="#030000"/><stop offset="0.450" stop-color="#070000"/><stop offset="0.500" stop-color="#090000"/><stop offset="0.550" stop-color="#0a0000"/><stop offset="0.600" stop-color="#0a0000"/><stop offset="0.650" stop-color="#090000"/><stop offset="0.700" stop-color="#080000"/><stop offset="0.750" stop-color="#070000"/><stop offset="0.800" stop-color="#060000"/><stop offset="0.850" stop-color="#040000"/><stop offset="0.900" stop-color="#030000"/><stop offset="0.950" stop-color="#020000"/><stop offset="1.000" stop-color="#010000"/></linearGradient><linearGradient id="fe179" gradientUnits="userSpaceOnUse" x1="523.3" y1="0" x2="553.3" y2="0"><stop offset="0.000" stop-color="#000244"/><stop offset="0.050" stop-color="#000138"/><stop offset="0.100" stop-color="#00012c"/><stop offset="0.150" stop-color="#000121"/><stop offset="0.200" stop-color="#000017"/><stop offset="0.250" stop-color="#00000e"/><stop offset="0.300" stop-color="#000007"/><stop offset="0.350" stop-color="#000002"/><stop offset="0.400" stop-color="#030000"/><stop offset="0.450" stop-color="#050000"/><stop offset="0.500" stop-color="#070000"/><stop offset="0.550" stop-color="#080000"/><stop offset="0.600" stop-color="#080000"/><stop offset="0.650" stop-color="#070000"/><stop offset="0.700" stop-color="#070000"/><stop offset="0.750" stop-color="#060000"/><stop offset="0.800" stop-color="#050000"/><stop offset="0.850" stop-color="#040000"/><stop offset="0.900" stop-color="#030000"/><stop offset="0.950" stop-color="#020000"/><stop offset="1.000" stop-color="#010000"/></linearGradient><linearGradient id="fe180" gradientUnits="userSpaceOnUse" x1="523.3" y1="0" x2="553.3" y2="0"><stop offset="0.000" stop-color="#000136"/><stop offset="0.050" stop-color="#00012d"/><stop offset="0.100" stop-color="#000123"/><stop offset="0.150" stop-color="#00001a"/><stop offset="0.200" stop-color="#000012"/><stop offset="0.250" stop-color="#00000b"/><stop offset="0.300" stop-color="#000006"/><stop offset="0.350" stop-color="#000001"/><stop offset="0.400" stop-color="#020000"/><stop offset="0.450" stop-color="#040000"/><stop offset="0.500" stop-color="#060000"/><stop offset="0.550" stop-color="#060000"/><stop offset="0.600" stop-color="#060000"/><stop offset="0.650" stop-color="#060000"/><stop offset="0.700" stop-color="#050000"/><stop offset="0.750" stop-color="#040000"/><stop offset="0.800" stop-color="#040000"/><stop offset="0.850" stop-color="#030000"/><stop offset="0.900" stop-color="#020000"/><stop offset="0.950" stop-color="#010000"/><stop offset="1.000" stop-color="#010000"/></linearGradient><linearGradient id="fe181" gradientUnits="userSpaceOnUse" x1="523.3" y1="0" x2="553.3" y2="0"><stop offset="0.000" stop-color="#00012b"/><stop offset="0.050" stop-color="#000124"/><stop offset="0.100" stop-color="#00001c"/><stop offset="0.150" stop-color="#000015"/><stop offset="0.200" stop-color="#00000f"/><stop offset="0.250" stop-color="#000009"/><stop offset="0.300" stop-color="#000005"/><stop offset="0.350" stop-color="#000001"/><stop offset="0.400" stop-color="#020000"/><stop offset="0.450" stop-color="#030000"/><stop offset="0.500" stop-color="#040000"/><stop offset="0.550" stop-color="#050000"/><stop offset="0.600" stop-color="#050000"/><stop offset="0.650" stop-color="#050000"/><stop offset="0.700" stop-color="#040000"/><stop offset="0.750" stop-color="#040000"/><stop offset="0.800" stop-color="#030000"/><stop offset="0.850" stop-color="#020000"/><stop offset="0.900" stop-color="#020000"/><stop offset="0.950" stop-color="#010000"/><stop offset="1.000" stop-color="#010000"/></linearGradient><linearGradient id="fe182" gradientUnits="userSpaceOnUse" x1="523.3" y1="0" x2="553.3" y2="0"><stop offset="0.000" stop-color="#000123"/><stop offset="0.050" stop-color="#00001d"/><stop offset="0.100" stop-color="#000017"/><stop offset="0.150" stop-color="#000011"/><stop offset="0.200" stop-color="#00000c"/><stop offset="0.250" stop-color="#000007"/><stop offset="0.300" stop-color="#000004"/><stop offset="0.350" stop-color="#000001"/><stop offset="0.400" stop-color="#010000"/><stop offset="0.450" stop-color="#030000"/><stop offset="0.500" stop-color="#040000"/><stop offset="0.550" stop-color="#040000"/><stop offset="0.600" stop-color="#040000"/><stop offset="0.650" stop-color="#040000"/><stop offset="0.700" stop-color="#030000"/><stop offset="0.750" stop-color="#030000"/><stop offset="0.800" stop-color="#020000"/><stop offset="0.850" stop-color="#020000"/><stop offset="0.900" stop-color="#010000"/><stop offset="0.950" stop-color="#010000"/><stop offset="1.000" stop-color="#010000"/></linearGradient><linearGradient id="fe183" gradientUnits="userSpaceOnUse" x1="523.3" y1="0" x2="553.3" y2="0"><stop offset="0.000" stop-color="#00001c"/><stop offset="0.050" stop-color="#000017"/><stop offset="0.100" stop-color="#000012"/><stop offset="0.150" stop-color="#00000e"/><stop offset="0.200" stop-color="#000009"/><stop offset="0.250" stop-color="#000006"/><stop offset="0.300" stop-color="#000003"/><stop offset="0.350" stop-color="#000001"/><stop offset="0.400" stop-color="#010000"/><stop offset="0.450" stop-color="#020000"/><stop offset="0.500" stop-color="#030000"/><stop offset="0.550" stop-color="#030000"/><stop offset="0.600" stop-color="#030000"/><stop offset="0.650" stop-color="#030000"/><stop offset="0.700" stop-color="#030000"/><stop offset="0.750" stop-color="#020000"/><stop offset="0.800" stop-color="#020000"/><stop offset="0.850" stop-color="#010000"/><stop offset="0.900" stop-color="#010000"/><stop offset="0.950" stop-color="#010000"/><stop offset="1.000" stop-color="#000000"/></linearGradient><linearGradient id="fe184" gradientUnits="userSpaceOnUse" x1="523.3" y1="0" x2="553.3" y2="0"><stop offset="0.000" stop-color="#000016"/><stop offset="0.050" stop-color="#000012"/><stop offset="0.100" stop-color="#00000f"/><stop offset="0.150" stop-color="#00000b"/><stop offset="0.200" stop-color="#000008"/><stop offset="0.250" stop-color="#000005"/><stop offset="0.300" stop-color="#000002"/><stop offset="0.350" stop-color="#000000"/><stop offset="0.400" stop-color="#010000"/><stop offset="0.450" stop-color="#020000"/><stop offset="0.500" stop-color="#020000"/><stop offset="0.550" stop-color="#030000"/><stop offset="0.600" stop-color="#030000"/><stop offset="0.650" stop-color="#020000"/><stop offset="0.700" stop-color="#020000"/><stop offset="0.750" stop-color="#020000"/><stop offset="0.800" stop-color="#010000"/><stop offset="0.850" stop-color="#010000"/><stop offset="0.900" stop-color="#010000"/><stop offset="0.950" stop-color="#010000"/><stop offset="1.000" stop-color="#000000"/></linearGradient><linearGradient id="fe185" gradientUnits="userSpaceOnUse" x1="523.3" y1="0" x2="553.3" y2="0"><stop offset="0.000" stop-color="#000012"/><stop offset="0.050" stop-color="#00000f"/><stop offset="0.100" stop-color="#00000c"/><stop offset="0.150" stop-color="#000009"/><stop offset="0.200" stop-color="#000006"/><stop offset="0.250" stop-color="#000004"/><stop offset="0.300" stop-color="#000002"/><stop offset="0.350" stop-color="#000000"/><stop offset="0.400" stop-color="#010000"/><stop offset="0.450" stop-color="#010000"/><stop offset="0.500" stop-color="#020000"/><stop offset="0.550" stop-color="#020000"/><stop offset="0.600" stop-color="#020000"/><stop offset="0.650" stop-color="#020000"/><stop offset="0.700" stop-color="#020000"/><stop offset="0.750" stop-color="#010000"/><stop offset="0.800" stop-color="#010000"/><stop offset="0.850" stop-color="#010000"/><stop offset="0.900" stop-color="#010000"/><stop offset="0.950" stop-color="#000000"/><stop offset="1.000" stop-color="#000000"/></linearGradient><linearGradient id="fe186" gradientUnits="userSpaceOnUse" x1="523.3" y1="0" x2="553.3" y2="0"><stop offset="0.000" stop-color="#00000e"/><stop offset="0.050" stop-color="#00000c"/><stop offset="0.100" stop-color="#000009"/><stop offset="0.150" stop-color="#000007"/><stop offset="0.200" stop-color="#000005"/><stop offset="0.250" stop-color="#000003"/><stop offset="0.300" stop-color="#000001"/><stop offset="0.350" stop-color="#000000"/><stop offset="0.400" stop-color="#010000"/><stop offset="0.450" stop-color="#010000"/><stop offset="0.500" stop-color="#010000"/><stop offset="0.550" stop-color="#020000"/><stop offset="0.600" stop-color="#020000"/><stop offset="0.650" stop-color="#020000"/><stop offset="0.700" stop-color="#010000"/><stop offset="0.750" stop-color="#010000"/><stop offset="0.800" stop-color="#010000"/><stop offset="0.850" stop-color="#010000"/><stop offset="0.900" stop-color="#010000"/><stop offset="0.950" stop-color="#000000"/><stop offset="1.000" stop-color="#000000"/></linearGradient><linearGradient id="fe187" gradientUnits="userSpaceOnUse" x1="523.3" y1="0" x2="553.3" y2="0"><stop offset="0.000" stop-color="#00000b"/><stop offset="0.050" stop-color="#000009"/><stop offset="0.100" stop-color="#000007"/><stop offset="0.150" stop-color="#000006"/><stop offset="0.200" stop-color="#000004"/><stop offset="0.250" stop-color="#000002"/><stop offset="0.300" stop-color="#000001"/><stop offset="0.350" stop-color="#000000"/><stop offset="0.400" stop-color="#000000"/><stop offset="0.450" stop-color="#010000"/><stop offset="0.500" stop-color="#010000"/><stop offset="0.550" stop-color="#010000"/><stop offset="0.600" stop-color="#010000"/><stop offset="0.650" stop-color="#010000"/><stop offset="0.700" stop-color="#010000"/><stop offset="0.750" stop-color="#010000"/><stop offset="0.800" stop-color="#010000"/><stop offset="0.850" stop-color="#010000"/><stop offset="0.900" stop-color="#000000"/><stop offset="0.950" stop-color="#000000"/><stop offset="1.000" stop-color="#000000"/></linearGradient><linearGradient id="fe188" gradientUnits="userSpaceOnUse" x1="523.3" y1="0" x2="553.3" y2="0"><stop offset="0.000" stop-color="#000009"/><stop offset="0.050" stop-color="#000008"/><stop offset="0.100" stop-color="#000006"/><stop offset="0.150" stop-color="#000004"/><stop offset="0.200" stop-color="#000003"/><stop offset="0.250" stop-color="#000002"/><stop offset="0.300" stop-color="#000001"/><stop offset="0.350" stop-color="#000000"/><stop offset="0.400" stop-color="#000000"/><stop offset="0.450" stop-color="#010000"/><stop offset="0.500" stop-color="#010000"/><stop offset="0.550" stop-color="#010000"/><stop offset="0.600" stop-color="#010000"/><stop offset="0.650" stop-color="#010000"/><stop offset="0.700" stop-color="#010000"/><stop offset="0.750" stop-color="#010000"/><stop offset="0.800" stop-color="#010000"/><stop offset="0.850" stop-color="#000000"/><stop offset="0.900" stop-color="#000000"/><stop offset="0.950" stop-color="#000000"/><stop offset="1.000" stop-color="#000000"/></linearGradient><linearGradient id="fe189" gradientUnits="userSpaceOnUse" x1="523.3" y1="0" x2="553.3" y2="0"><stop offset="0.000" stop-color="#000007"/><stop offset="0.050" stop-color="#000006"/><stop offset="0.100" stop-color="#000005"/><stop offset="0.150" stop-color="#000004"/><stop offset="0.200" stop-color="#000002"/><stop offset="0.250" stop-color="#000002"/><stop offset="0.300" stop-color="#000001"/><stop offset="0.350" stop-color="#000000"/><stop offset="0.400" stop-color="#000000"/><stop offset="0.450" stop-color="#010000"/><stop offset="0.500" stop-color="#010000"/><stop offset="0.550" stop-color="#010000"/><stop offset="0.600" stop-color="#010000"/><stop offset="0.650" stop-color="#010000"/><stop offset="0.700" stop-color="#010000"/><stop offset="0.750" stop-color="#010000"/><stop offset="0.800" stop-color="#000000"/><stop offset="0.850" stop-color="#000000"/><stop offset="0.900" stop-color="#000000"/><stop offset="0.950" stop-color="#000000"/><stop offset="1.000" stop-color="#000000"/></linearGradient><linearGradient id="fe190" gradientUnits="userSpaceOnUse" x1="523.3" y1="0" x2="553.3" y2="0"><stop offset="0.000" stop-color="#000006"/><stop offset="0.050" stop-color="#000005"/><stop offset="0.100" stop-color="#000004"/><stop offset="0.150" stop-color="#000003"/><stop offset="0.200" stop-color="#000002"/><stop offset="0.250" stop-color="#000001"/><stop offset="0.300" stop-color="#000001"/><stop offset="0.350" stop-color="#000000"/><stop offset="0.400" stop-color="#000000"/><stop offset="0.450" stop-color="#000000"/><stop offset="0.500" stop-color="#010000"/><stop offset="0.550" stop-color="#010000"/><stop offset="0.600" stop-color="#010000"/><stop offset="0.650" stop-color="#010000"/><stop offset="0.700" stop-color="#010000"/><stop offset="0.750" stop-color="#000000"/><stop offset="0.800" stop-color="#000000"/><stop offset="0.850" stop-color="#000000"/><stop offset="0.900" stop-color="#000000"/><stop offset="0.950" stop-color="#000000"/><stop offset="1.000" stop-color="#000000"/></linearGradient><clipPath id="fc5"><rect x="523.3" y="195.2" width="76.0" height="34.2"/></clipPath></defs>
<g clip-path="url(#fc0)">
<rect x="523.3" y="6.7" width="76.0" height="34.2" fill="#000"/>
<rect x="486.80" y="6" width="114" height="1" fill="url(#fb0)" opacity="0.060"/>
<rect x="486.80" y="7" width="114" height="1" fill="url(#fb0)" opacity="0.080"/>
<rect x="486.80" y="8" width="114" height="1" fill="url(#fb0)" opacity="0.106"/>
<rect x="486.80" y="9" width="114" height="1" fill="url(#fb0)" opacity="0.142"/>
<rect x="486.80" y="10" width="114" height="1" fill="url(#fb0)" opacity="0.190"/>
<rect x="486.80" y="11" width="114" height="1" fill="url(#fb0)" opacity="0.253"/>
<rect x="486.80" y="12" width="114" height="1" fill="url(#fb0)" opacity="0.338"/>
<rect x="486.80" y="13" width="114" height="1" fill="url(#fb0)" opacity="0.451"/>
<rect x="486.80" y="14" width="114" height="1" fill="url(#fb0)" opacity="0.602"/>
<rect x="486.80" y="15" width="114" height="1" fill="url(#fb0)" opacity="0.804"/>
<rect x="486.80" y="16" width="114" height="1" fill="url(#fb0)"/>
<rect x="486.80" y="17" width="114" height="1" fill="url(#fb1)"/>
<rect x="486.80" y="18" width="114" height="1" fill="url(#fb2)"/>
<rect x="505.80" y="19" width="114" height="1" fill="url(#fb3)"/>
<rect x="505.80" y="20" width="114" height="1" fill="url(#fb3)"/>
<rect x="505.80" y="21" width="114" height="1" fill="url(#fb3)"/>
<rect x="505.80" y="22" width="114" height="1" fill="url(#fb2)"/>
<rect x="505.80" y="23" width="114" height="1" fill="url(#fb0)" opacity="0.514"/>
<rect x="486.80" y="24" width="114" height="1" fill="url(#fb0)" opacity="0.514"/>
<rect x="486.80" y="25" width="114" height="1" fill="url(#fb2)"/>
<rect x="486.80" y="26" width="114" height="1" fill="url(#fb3)"/>
<rect x="486.80" y="27" width="114" height="1" fill="url(#fb3)"/>
<rect x="486.80" y="28" width="114" height="1" fill="url(#fb3)"/>
<rect x="505.80" y="29" width="114" height="1" fill="url(#fb2)"/>
<rect x="505.80" y="30" width="114" height="1" fill="url(#fb1)"/>
<rect x="505.80" y="31" width="114" height="1" fill="url(#fb0)"/>
<rect x="505.80" y="32" width="114" height="1" fill="url(#fb0)" opacity="0.751"/>
<rect x="505.80" y="33" width="114" height="1" fill="url(#fb0)" opacity="0.551"/>
<rect x="505.80" y="34" width="114" height="1" fill="url(#fb0)" opacity="0.404"/>
<rect x="505.80" y="35" width="114" height="1" fill="url(#fb0)" opacity="0.297"/>
<rect x="505.80" y="36" width="114" height="1" fill="url(#fb0)" opacity="0.218"/>
<rect x="505.80" y="37" width="114" height="1" fill="url(#fb0)" opacity="0.160"/>
<rect x="505.80" y="38" width="114" height="1" fill="url(#fb0)" opacity="0.117"/>
<rect x="505.80" y="39" width="114" height="1" fill="url(#fb0)" opacity="0.086"/>
<rect x="505.80" y="40" width="114" height="1" fill="url(#fb0)" opacity="0.063"/>
</g>
<path d="M523.3 29.20H599.3" stroke="#d2d2d2" stroke-width="1.3" stroke-dasharray="4.3 1.75" stroke-dashoffset="-1.6"/>
<path d="M542.30 6.7v1.6M542.30 40.90v-1.6M561.30 6.7v1.6M561.30 40.90v-1.6M580.30 6.7v1.6M580.30 40.90v-1.6" stroke="#9a9a9a" stroke-width="0.8"/>
<rect x="523.3" y="6.7" width="76.0" height="34.2" fill="none" stroke="#b8b8b8" stroke-width="0.8"/>
<g clip-path="url(#fc1)">
<rect x="523.3" y="44.4" width="76.0" height="34.2" fill="#000"/>
<rect x="486.80" y="44" width="114" height="1" fill="url(#fb0)" opacity="0.039"/>
<rect x="486.80" y="45" width="114" height="1" fill="url(#fb0)" opacity="0.054"/>
<rect x="486.80" y="46" width="114" height="1" fill="url(#fb0)" opacity="0.074"/>
<rect x="486.80" y="47" width="114" height="1" fill="url(#fb0)" opacity="0.103"/>
<rect x="486.80" y="48" width="114" height="1" fill="url(#fb0)" opacity="0.142"/>
<rect x="486.80" y="49" width="114" height="1" fill="url(#fb0)" opacity="0.197"/>
<rect x="486.80" y="50" width="114" height="1" fill="url(#fb0)" opacity="0.273"/>
<rect x="486.80" y="51" width="114" height="1" fill="url(#fb0)" opacity="0.378"/>
<rect x="486.80" y="52" width="114" height="1" fill="url(#fb0)" opacity="0.523"/>
<rect x="486.80" y="53" width="114" height="1" fill="url(#fb0)" opacity="0.723"/>
<rect x="486.80" y="54" width="114" height="1" fill="url(#fb0)"/>
<rect x="486.80" y="55" width="114" height="1" fill="url(#fb1)"/>
<rect x="505.80" y="56" width="114" height="1" fill="url(#fb3)"/>
<rect x="505.80" y="57" width="114" height="1" fill="url(#fb2)"/>
<rect x="505.80" y="58" width="114" height="1" fill="url(#fb1)"/>
<rect x="505.80" y="59" width="114" height="1" fill="url(#fb1)"/>
<rect x="505.80" y="60" width="114" height="1" fill="url(#fb0)"/>
<rect x="505.80" y="61" width="114" height="1" fill="url(#fb0)" opacity="0.934"/>
<rect x="505.80" y="62" width="114" height="1" fill="url(#fb0)" opacity="0.964"/>
<rect x="505.80" y="63" width="114" height="1" fill="url(#fb0)"/>
<rect x="505.80" y="64" width="114" height="1" fill="url(#fb1)"/>
<rect x="505.80" y="65" width="114" height="1" fill="url(#fb2)"/>
<rect x="505.80" y="66" width="114" height="1" fill="url(#fb3)"/>
<rect x="486.80" y="67" width="114" height="1" fill="url(#fb2)"/>
<rect x="486.80" y="68" width="114" height="1" fill="url(#fb1)"/>
<rect x="486.80" y="69" width="114" height="1" fill="url(#fb0)"/>
<rect x="486.80" y="70" width="114" height="1" fill="url(#fb0)" opacity="0.740"/>
<rect x="486.80" y="71" width="114" height="1" fill="url(#fb0)" opacity="0.543"/>
<rect x="486.80" y="72" width="114" height="1" fill="url(#fb0)" opacity="0.399"/>
<rect x="486.80" y="73" width="114" height="1" fill="url(#fb0)" opacity="0.293"/>
<rect x="486.80" y="74" width="114" height="1" fill="url(#fb0)" opacity="0.215"/>
<rect x="486.80" y="75" width="114" height="1" fill="url(#fb0)" opacity="0.158"/>
<rect x="486.80" y="76" width="114" height="1" fill="url(#fb0)" opacity="0.116"/>
<rect x="486.80" y="77" width="114" height="1" fill="url(#fb0)" opacity="0.085"/>
<rect x="486.80" y="78" width="114" height="1" fill="url(#fb0)" opacity="0.062"/>
</g>
<path d="M523.3 66.90H599.3" stroke="#d2d2d2" stroke-width="1.3" stroke-dasharray="4.3 1.75" stroke-dashoffset="-1.6"/>
<path d="M542.30 44.4v1.6M542.30 78.60v-1.6M561.30 44.4v1.6M561.30 78.60v-1.6M580.30 44.4v1.6M580.30 78.60v-1.6" stroke="#9a9a9a" stroke-width="0.8"/>
<rect x="523.3" y="44.4" width="76.0" height="34.2" fill="none" stroke="#b8b8b8" stroke-width="0.8"/>
<g clip-path="url(#fc2)">
<rect x="523.3" y="82.1" width="76.0" height="34.2" fill="#000"/>
<rect x="486.80" y="82" width="114" height="1" fill="url(#fb0)" opacity="0.050"/>
<rect x="486.80" y="83" width="114" height="1" fill="url(#fb0)" opacity="0.070"/>
<rect x="486.80" y="84" width="114" height="1" fill="url(#fb0)" opacity="0.096"/>
<rect x="486.80" y="85" width="114" height="1" fill="url(#fb0)" opacity="0.133"/>
<rect x="486.80" y="86" width="114" height="1" fill="url(#fb0)" opacity="0.185"/>
<rect x="486.80" y="87" width="114" height="1" fill="url(#fb0)" opacity="0.256"/>
<rect x="486.80" y="88" width="114" height="1" fill="url(#fb0)" opacity="0.354"/>
<rect x="486.80" y="89" width="114" height="1" fill="url(#fb0)" opacity="0.490"/>
<rect x="486.80" y="90" width="114" height="1" fill="url(#fb0)" opacity="0.678"/>
<rect x="486.80" y="91" width="114" height="1" fill="url(#fb0)" opacity="0.938"/>
<rect x="486.80" y="92" width="114" height="1" fill="url(#fb1)"/>
<rect x="486.80" y="93" width="114" height="1" fill="url(#fb2)"/>
<rect x="506.12" y="94" width="114" height="1" fill="url(#fb3)"/>
<rect x="507.17" y="95" width="114" height="1" fill="url(#fb2)"/>
<rect x="508.23" y="96" width="114" height="1" fill="url(#fb1)"/>
<rect x="509.29" y="97" width="114" height="1" fill="url(#fb0)" opacity="0.932"/>
<rect x="510.35" y="98" width="114" height="1" fill="url(#fb0)" opacity="0.582"/>
<rect x="511.41" y="99" width="114" height="1" fill="url(#fb0)" opacity="0.400"/>
<rect x="512.46" y="100" width="114" height="1" fill="url(#fb0)" opacity="0.643"/>
<rect x="513.52" y="101" width="114" height="1" fill="url(#fb0)"/>
<rect x="514.58" y="102" width="114" height="1" fill="url(#fb1)"/>
<rect x="515.64" y="103" width="114" height="1" fill="url(#fb2)"/>
<rect x="516.69" y="104" width="114" height="1" fill="url(#fb3)"/>
<rect x="497.80" y="105" width="114" height="1" fill="url(#fb2)"/>
<rect x="497.80" y="106" width="114" height="1" fill="url(#fb1)"/>
<rect x="497.80" y="107" width="114" height="1" fill="url(#fb1)"/>
<rect x="497.80" y="108" width="114" height="1" fill="url(#fb0)" opacity="0.903"/>
<rect x="497.80" y="109" width="114" height="1" fill="url(#fb0)" opacity="0.677"/>
<rect x="497.80" y="110" width="114" height="1" fill="url(#fb0)" opacity="0.507"/>
<rect x="497.80" y="111" width="114" height="1" fill="url(#fb0)" opacity="0.380"/>
<rect x="497.80" y="112" width="114" height="1" fill="url(#fb0)" opacity="0.284"/>
<rect x="497.80" y="113" width="114" height="1" fill="url(#fb0)" opacity="0.213"/>
<rect x="497.80" y="114" width="114" height="1" fill="url(#fb0)" opacity="0.160"/>
<rect x="497.80" y="115" width="114" height="1" fill="url(#fb0)" opacity="0.120"/>
<rect x="497.80" y="116" width="114" height="1" fill="url(#fb0)" opacity="0.090"/>
</g>
<path d="M523.3 104.60H599.3" stroke="#d2d2d2" stroke-width="1.3" stroke-dasharray="4.3 1.75" stroke-dashoffset="-1.6"/>
<path d="M542.30 82.1v1.6M542.30 116.30v-1.6M561.30 82.1v1.6M561.30 116.30v-1.6M580.30 82.1v1.6M580.30 116.30v-1.6" stroke="#9a9a9a" stroke-width="0.8"/>
<rect x="523.3" y="82.1" width="76.0" height="34.2" fill="none" stroke="#b8b8b8" stroke-width="0.8"/>
<g clip-path="url(#fc3)">
<rect x="523.3" y="119.8" width="76.0" height="34.2" fill="#000"/>
<rect x="486.30" y="119" width="114" height="1" fill="url(#fb0)" opacity="0.040"/>
<rect x="486.30" y="120" width="114" height="1" fill="url(#fb0)" opacity="0.056"/>
<rect x="486.30" y="121" width="114" height="1" fill="url(#fb0)" opacity="0.077"/>
<rect x="486.30" y="122" width="114" height="1" fill="url(#fb0)" opacity="0.106"/>
<rect x="486.30" y="123" width="114" height="1" fill="url(#fb0)" opacity="0.147"/>
<rect x="486.30" y="124" width="114" height="1" fill="url(#fb0)" opacity="0.204"/>
<rect x="486.30" y="125" width="114" height="1" fill="url(#fb0)" opacity="0.282"/>
<rect x="486.30" y="126" width="114" height="1" fill="url(#fb0)" opacity="0.390"/>
<rect x="486.30" y="127" width="114" height="1" fill="url(#fb0)" opacity="0.540"/>
<rect x="486.30" y="128" width="114" height="1" fill="url(#fb0)" opacity="0.747"/>
<rect x="486.30" y="129" width="114" height="1" fill="url(#fb0)"/>
<rect x="486.30" y="130" width="114" height="1" fill="url(#fb1)"/>
<rect x="486.30" y="131" width="114" height="1" fill="url(#fb2)"/>
<rect x="505.88" y="132" width="114" height="1" fill="url(#fb3)"/>
<rect x="506.84" y="133" width="114" height="1" fill="url(#fb2)"/>
<rect x="507.80" y="134" width="114" height="1" fill="url(#fb1)"/>
<rect x="508.76" y="135" width="114" height="1" fill="url(#fb0)" opacity="0.815"/>
<rect x="509.72" y="136" width="114" height="1" fill="url(#fb0)" opacity="0.501"/>
<rect x="510.68" y="137" width="114" height="1" fill="url(#fb0)" opacity="0.454"/>
<rect x="511.65" y="138" width="114" height="1" fill="url(#fb0)" opacity="0.743"/>
<rect x="512.61" y="139" width="114" height="1" fill="url(#fb0)"/>
<rect x="513.57" y="140" width="114" height="1" fill="url(#fb1)"/>
<rect x="514.53" y="141" width="114" height="1" fill="url(#fb2)"/>
<rect x="495.30" y="142" width="114" height="1" fill="url(#fb3)"/>
<rect x="495.30" y="143" width="114" height="1" fill="url(#fb2)"/>
<rect x="495.30" y="144" width="114" height="1" fill="url(#fb1)"/>
<rect x="495.30" y="145" width="114" height="1" fill="url(#fb0)"/>
<rect x="495.30" y="146" width="114" height="1" fill="url(#fb0)" opacity="0.828"/>
<rect x="495.30" y="147" width="114" height="1" fill="url(#fb0)" opacity="0.621"/>
<rect x="495.30" y="148" width="114" height="1" fill="url(#fb0)" opacity="0.465"/>
<rect x="495.30" y="149" width="114" height="1" fill="url(#fb0)" opacity="0.348"/>
<rect x="495.30" y="150" width="114" height="1" fill="url(#fb0)" opacity="0.261"/>
<rect x="495.30" y="151" width="114" height="1" fill="url(#fb0)" opacity="0.195"/>
<rect x="495.30" y="152" width="114" height="1" fill="url(#fb0)" opacity="0.146"/>
<rect x="495.30" y="153" width="114" height="1" fill="url(#fb0)" opacity="0.110"/>
</g>
<path d="M523.3 142.30H599.3" stroke="#d2d2d2" stroke-width="1.3" stroke-dasharray="4.3 1.75" stroke-dashoffset="-1.6"/>
<path d="M542.30 119.8v1.6M542.30 154.00v-1.6M561.30 119.8v1.6M561.30 154.00v-1.6M580.30 119.8v1.6M580.30 154.00v-1.6" stroke="#9a9a9a" stroke-width="0.8"/>
<rect x="523.3" y="119.8" width="76.0" height="34.2" fill="none" stroke="#b8b8b8" stroke-width="0.8"/>
<g clip-path="url(#fc4)">
<rect x="523.3" y="157.5" width="76.0" height="34.2" fill="#000"/>
<rect x="523.3" y="157" width="30" height="1" fill="url(#fe157)"/>
<rect x="523.3" y="158" width="30" height="1" fill="url(#fe158)"/>
<rect x="523.3" y="159" width="30" height="1" fill="url(#fe159)"/>
<rect x="523.3" y="160" width="30" height="1" fill="url(#fe160)"/>
<rect x="523.3" y="161" width="30" height="1" fill="url(#fe161)"/>
<rect x="523.3" y="162" width="30" height="1" fill="url(#fe162)"/>
<rect x="523.3" y="163" width="30" height="1" fill="url(#fe163)"/>
<rect x="523.3" y="164" width="30" height="1" fill="url(#fe164)"/>
<rect x="523.3" y="165" width="30" height="1" fill="url(#fe165)"/>
<rect x="523.3" y="166" width="30" height="1" fill="url(#fe166)"/>
<rect x="523.3" y="167" width="30" height="1" fill="url(#fe167)"/>
<rect x="523.3" y="168" width="30" height="1" fill="url(#fe168)"/>
<rect x="523.3" y="169" width="30" height="1" fill="url(#fe169)"/>
<rect x="523.3" y="170" width="30" height="1" fill="url(#fe170)"/>
<rect x="523.3" y="171" width="30" height="1" fill="url(#fe171)"/>
<rect x="523.3" y="172" width="30" height="1" fill="url(#fe172)"/>
<rect x="523.3" y="173" width="30" height="1" fill="url(#fe173)"/>
<rect x="523.3" y="174" width="30" height="1" fill="url(#fe174)"/>
<rect x="523.3" y="175" width="30" height="1" fill="url(#fe175)"/>
<rect x="523.3" y="176" width="30" height="1" fill="url(#fe176)"/>
<rect x="523.3" y="177" width="30" height="1" fill="url(#fe177)"/>
<rect x="523.3" y="178" width="30" height="1" fill="url(#fe178)"/>
<rect x="523.3" y="179" width="30" height="1" fill="url(#fe179)"/>
<rect x="523.3" y="180" width="30" height="1" fill="url(#fe180)"/>
<rect x="523.3" y="181" width="30" height="1" fill="url(#fe181)"/>
<rect x="523.3" y="182" width="30" height="1" fill="url(#fe182)"/>
<rect x="523.3" y="183" width="30" height="1" fill="url(#fe183)"/>
<rect x="523.3" y="184" width="30" height="1" fill="url(#fe184)"/>
<rect x="523.3" y="185" width="30" height="1" fill="url(#fe185)"/>
<rect x="523.3" y="186" width="30" height="1" fill="url(#fe186)"/>
<rect x="523.3" y="187" width="30" height="1" fill="url(#fe187)"/>
<rect x="523.3" y="188" width="30" height="1" fill="url(#fe188)"/>
<rect x="523.3" y="189" width="30" height="1" fill="url(#fe189)"/>
<rect x="523.3" y="190" width="30" height="1" fill="url(#fe190)"/>
</g>
<path d="M523.3 169.60H599.3" stroke="#d81818" stroke-width="1.4" stroke-dasharray="4.3 1.75" stroke-dashoffset="-1.6"/>
<path d="M523.3 180.00H599.3" stroke="#d2d2d2" stroke-width="1.3" stroke-dasharray="4.3 1.75" stroke-dashoffset="-1.6"/>
<path d="M542.30 157.5v1.6M542.30 191.70v-1.6M561.30 157.5v1.6M561.30 191.70v-1.6M580.30 157.5v1.6M580.30 191.70v-1.6" stroke="#9a9a9a" stroke-width="0.8"/>
<rect x="523.3" y="157.5" width="76.0" height="34.2" fill="none" stroke="#b8b8b8" stroke-width="0.8"/>
<g clip-path="url(#fc5)">
<rect x="523.3" y="195.2" width="76.0" height="34.2" fill="#000"/>
<rect x="516.00" y="204" width="114" height="1" fill="url(#fb0)" opacity="0.024"/>
<rect x="516.00" y="205" width="114" height="1" fill="url(#fb0)" opacity="0.034"/>
<rect x="516.00" y="206" width="114" height="1" fill="url(#fb0)" opacity="0.049"/>
<rect x="516.00" y="207" width="114" height="1" fill="url(#fb0)" opacity="0.070"/>
<rect x="516.00" y="208" width="114" height="1" fill="url(#fb0)" opacity="0.101"/>
<rect x="516.00" y="209" width="114" height="1" fill="url(#fb0)" opacity="0.144"/>
<rect x="516.00" y="210" width="114" height="1" fill="url(#fb0)" opacity="0.207"/>
<rect x="516.00" y="211" width="114" height="1" fill="url(#fb0)" opacity="0.297"/>
<rect x="516.00" y="212" width="114" height="1" fill="url(#fb0)" opacity="0.426"/>
<rect x="516.00" y="213" width="114" height="1" fill="url(#fb0)" opacity="0.612"/>
<rect x="516.00" y="214" width="114" height="1" fill="url(#fb0)" opacity="0.878"/>
<rect x="516.00" y="215" width="114" height="1" fill="url(#fb1)"/>
<rect x="516.00" y="216" width="114" height="1" fill="url(#fb2)"/>
<rect x="516.00" y="217" width="114" height="1" fill="url(#fb3)"/>
<rect x="497.00" y="218" width="114" height="1" fill="url(#fb2)"/>
<rect x="497.00" y="219" width="114" height="1" fill="url(#fb1)"/>
<rect x="497.00" y="220" width="114" height="1" fill="url(#fb0)"/>
<rect x="497.00" y="221" width="114" height="1" fill="url(#fb0)" opacity="0.707"/>
<rect x="497.00" y="222" width="114" height="1" fill="url(#fb0)" opacity="0.492"/>
<rect x="497.00" y="223" width="114" height="1" fill="url(#fb0)" opacity="0.343"/>
<rect x="497.00" y="224" width="114" height="1" fill="url(#fb0)" opacity="0.239"/>
<rect x="497.00" y="225" width="114" height="1" fill="url(#fb0)" opacity="0.167"/>
<rect x="497.00" y="226" width="114" height="1" fill="url(#fb0)" opacity="0.116"/>
<rect x="497.00" y="227" width="114" height="1" fill="url(#fb0)" opacity="0.081"/>
<rect x="497.00" y="228" width="114" height="1" fill="url(#fb0)" opacity="0.056"/>
<rect x="497.00" y="229" width="114" height="1" fill="url(#fb0)" opacity="0.039"/>
</g>
<path d="M523.3 207.30H599.3" stroke="#d81818" stroke-width="1.4" stroke-dasharray="4.3 1.75" stroke-dashoffset="-1.6"/>
<path d="M523.3 217.70H599.3" stroke="#d2d2d2" stroke-width="1.3" stroke-dasharray="4.3 1.75" stroke-dashoffset="-1.6"/>
<path d="M542.30 195.2v1.6M542.30 229.40v-1.6M561.30 195.2v1.6M561.30 229.40v-1.6M580.30 195.2v1.6M580.30 229.40v-1.6" stroke="#9a9a9a" stroke-width="0.8"/>
<rect x="523.3" y="195.2" width="76.0" height="34.2" fill="none" stroke="#b8b8b8" stroke-width="0.8"/>
<text x="525.3" y="18.30" font-size="12.5" fill="#fff">(f)</text>
<text x="597.2" y="18.30" font-size="12.5" fill="#fff" text-anchor="end">case A</text>
<text x="525.3" y="56.00" font-size="12.5" fill="#fff">(g)</text>
<text x="597.2" y="56.00" font-size="12.5" fill="#fff" text-anchor="end">B</text>
<text x="525.3" y="93.70" font-size="12.5" fill="#fff">(h)</text>
<text x="597.2" y="93.70" font-size="12.5" fill="#fff" text-anchor="end">C</text>
<text x="525.3" y="131.40" font-size="12.5" fill="#fff">(i)</text>
<text x="597.2" y="131.40" font-size="12.5" fill="#fff" text-anchor="end">D</text>
<text x="525.3" y="169.10" font-size="12.5" fill="#fff">(j)</text>
<text x="597.2" y="169.10" font-size="12.5" fill="#fff" text-anchor="end">E</text>
<text x="525.3" y="206.80" font-size="12.5" fill="#fff">(k)</text>
<text x="597.2" y="206.80" font-size="12.5" fill="#fff" text-anchor="end">F</text>
<text x="527.0" y="247.6" font-size="12" fill="#111" text-anchor="middle">0</text>
<text x="561.3" y="247.6" font-size="12" fill="#111" text-anchor="middle">1</text>
<text x="597.7" y="247.6" font-size="12" fill="#111" text-anchor="middle">2</text>
<text x="552.3" y="261.3" font-size="12" fill="#111">x/&#955;<tspan font-size="9" dy="2.2">spp</tspan></text>
</svg>
</body></html>
